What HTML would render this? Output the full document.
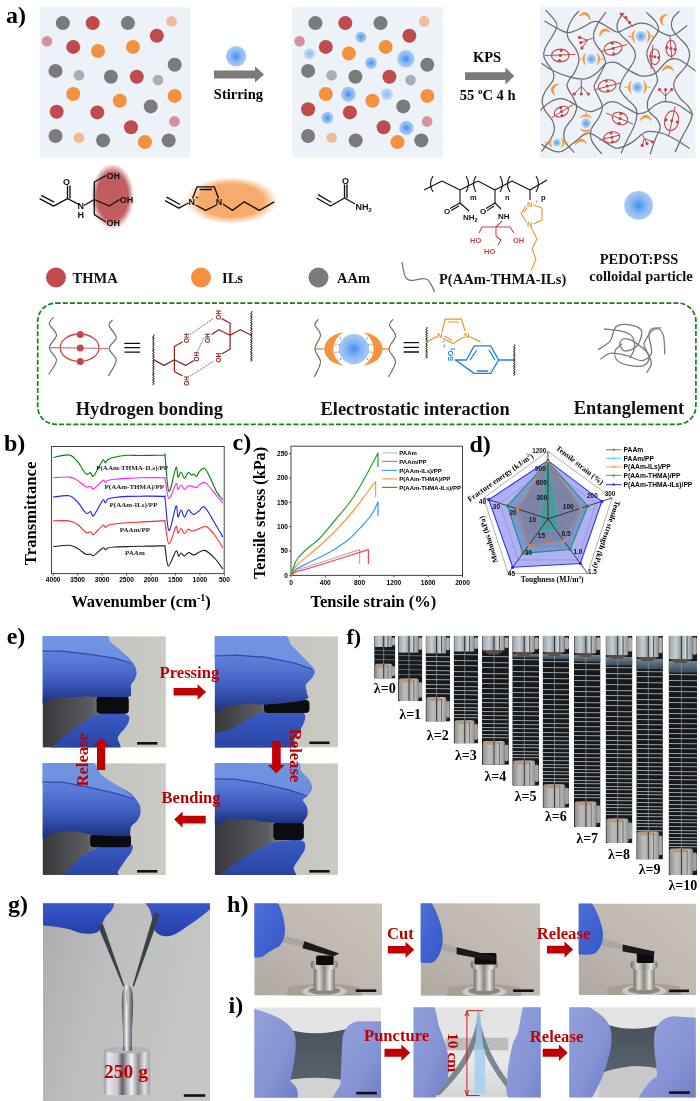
<!DOCTYPE html>
<html><head><meta charset="utf-8"><title>Figure</title>
<style>html,body{margin:0;padding:0;background:#fff;width:700px;height:1101px;overflow:hidden}svg{display:block}</style>
</head><body>
<svg width="700" height="1101" viewBox="0 0 700 1101">
<defs><radialGradient id="bg1"><stop offset="0" stop-color="#3d8ef7"/><stop offset="0.55" stop-color="#8ab9f2"/><stop offset="1" stop-color="#aacbf2"/></radialGradient><radialGradient id="bg2"><stop offset="0" stop-color="#8cbcf6"/><stop offset="1" stop-color="#c5dcf5"/></radialGradient><radialGradient id="redglow"><stop offset="0.72" stop-color="#c25c5e"/><stop offset="1" stop-color="#c25c5e" stop-opacity="0"/></radialGradient><radialGradient id="orgglow"><stop offset="0.7" stop-color="#f6aa6b"/><stop offset="1" stop-color="#f6aa6b" stop-opacity="0"/></radialGradient><radialGradient id="bgn"><stop offset="0" stop-color="#4d98f6"/><stop offset="0.5" stop-color="#8fbef4"/><stop offset="1" stop-color="#c4daf4"/></radialGradient></defs>
<text x="6" y="22.7" font-family="'Liberation Serif','Times New Roman',serif" font-weight="bold" font-size="24">a)</text>
<rect x="39.7" y="7.3" width="150.6" height="150.5" fill="#edf1f8"/>
<circle cx="62.8" cy="23.1" r="7" fill="#7b7b7b"/>
<circle cx="92.7" cy="23.1" r="7" fill="#c04b4d"/>
<circle cx="127.9" cy="23.1" r="7" fill="#7b7b7b"/>
<circle cx="171.6" cy="21.4" r="5.3" fill="#ecbd97"/>
<circle cx="47.0" cy="41.3" r="5.3" fill="#d39499"/>
<circle cx="156.8" cy="35.7" r="7" fill="#c04b4d"/>
<circle cx="73.2" cy="46.9" r="7" fill="#c04b4d"/>
<circle cx="98.0" cy="51" r="7" fill="#f4913e"/>
<circle cx="133.0" cy="46.9" r="7" fill="#f4913e"/>
<circle cx="55.5" cy="70.9" r="7" fill="#7b7b7b"/>
<circle cx="79.0" cy="75.3" r="5.3" fill="#a9adb4"/>
<circle cx="110.9" cy="76.7" r="7" fill="#7b7b7b"/>
<circle cx="136.8" cy="76.7" r="7" fill="#c04b4d"/>
<circle cx="158.0" cy="80.1" r="5.3" fill="#a9adb4"/>
<circle cx="174.7" cy="64.8" r="7" fill="#7b7b7b"/>
<circle cx="73.2" cy="94" r="7" fill="#f4913e"/>
<circle cx="119.8" cy="100.8" r="7" fill="#f4913e"/>
<circle cx="150.7" cy="106.4" r="7" fill="#7b7b7b"/>
<circle cx="174.7" cy="95.9" r="7" fill="#f4913e"/>
<circle cx="56.7" cy="111.7" r="7" fill="#c04b4d"/>
<circle cx="97.3" cy="112.4" r="7" fill="#c04b4d"/>
<circle cx="174.5" cy="121.4" r="5.3" fill="#d39499"/>
<circle cx="131.0" cy="127.2" r="7" fill="#c04b4d"/>
<circle cx="55.5" cy="136" r="7" fill="#7b7b7b"/>
<circle cx="79.0" cy="137.7" r="5.3" fill="#ecbd97"/>
<circle cx="103.1" cy="140.4" r="7" fill="#7b7b7b"/>
<circle cx="144.9" cy="142.1" r="7" fill="#f4913e"/>
<circle cx="168.7" cy="140.4" r="7" fill="#7b7b7b"/>
<rect x="292.3" y="7.3" width="150.6" height="150.5" fill="#edf1f8"/>
<circle cx="315.4" cy="23.1" r="7" fill="#7b7b7b"/>
<circle cx="345.3" cy="23.1" r="7" fill="#c04b4d"/>
<circle cx="380.5" cy="23.1" r="7" fill="#7b7b7b"/>
<circle cx="424.2" cy="21.4" r="5.3" fill="#ecbd97"/>
<circle cx="299.6" cy="41.3" r="5.3" fill="#d39499"/>
<circle cx="409.4" cy="35.7" r="7" fill="#c04b4d"/>
<circle cx="325.8" cy="46.9" r="7" fill="#c04b4d"/>
<circle cx="348.9" cy="53.4" r="7" fill="#f4913e"/>
<circle cx="385.6" cy="46.9" r="7" fill="#f4913e"/>
<circle cx="308.1" cy="70.9" r="7" fill="#7b7b7b"/>
<circle cx="331.6" cy="75.3" r="5.3" fill="#a9adb4"/>
<circle cx="355.4" cy="76.7" r="7" fill="#7b7b7b"/>
<circle cx="389.4" cy="76.7" r="7" fill="#c04b4d"/>
<circle cx="410.6" cy="80.1" r="5.3" fill="#a9adb4"/>
<circle cx="427.3" cy="64.8" r="7" fill="#7b7b7b"/>
<circle cx="325.8" cy="94" r="7" fill="#f4913e"/>
<circle cx="372.4" cy="100.8" r="7" fill="#f4913e"/>
<circle cx="403.3" cy="106.4" r="7" fill="#7b7b7b"/>
<circle cx="427.3" cy="95.9" r="7" fill="#f4913e"/>
<circle cx="308.1" cy="109.3" r="7" fill="#c04b4d"/>
<circle cx="349.9" cy="112.4" r="7" fill="#c04b4d"/>
<circle cx="427.1" cy="121.4" r="5.3" fill="#d39499"/>
<circle cx="383.6" cy="127.2" r="7" fill="#c04b4d"/>
<circle cx="308.1" cy="136" r="7" fill="#7b7b7b"/>
<circle cx="331.6" cy="137.7" r="5.3" fill="#ecbd97"/>
<circle cx="355.7" cy="140.4" r="7" fill="#7b7b7b"/>
<circle cx="397.5" cy="142.1" r="7" fill="#f4913e"/>
<circle cx="421.3" cy="140.4" r="7" fill="#7b7b7b"/>
<circle cx="361" cy="37.2" r="5.5" fill="url(#bg1)"/>
<circle cx="309.5" cy="53.9" r="5.5" fill="url(#bg2)"/>
<circle cx="371" cy="63.1" r="6" fill="url(#bg1)"/>
<circle cx="405.9" cy="58.8" r="8.7" fill="url(#bg1)"/>
<circle cx="348.4" cy="94.2" r="7.5" fill="url(#bg1)"/>
<circle cx="387" cy="94.2" r="6" fill="url(#bg2)"/>
<circle cx="327.3" cy="117.8" r="6" fill="url(#bg1)"/>
<circle cx="406.4" cy="128" r="7.2" fill="url(#bg1)"/>
<path d="M214 70.5 H255 V66.2 L264 74.4 L255 82.5 V78.5 H214 Z" fill="#7a7a7a"/>
<circle cx="236.1" cy="56.3" r="10.2" fill="url(#bg1)"/>
<text x="238.4" y="99.1" text-anchor="middle" font-family="'Liberation Serif','Times New Roman',serif" font-weight="bold" font-size="14.5">Stirring</text>
<path d="M465 72.3 H505.4 V67.4 L514.3 76 L505.4 84.6 V80 H465 Z" fill="#7a7a7a"/>
<text x="487" y="62.3" text-anchor="middle" font-family="'Liberation Serif','Times New Roman',serif" font-weight="bold" font-size="14.5">KPS</text>
<text x="487.7" y="99.5" text-anchor="middle" font-family="'Liberation Serif','Times New Roman',serif" font-weight="bold" font-size="14.5">55 <tspan font-size="9" dy="-6">o</tspan><tspan dy="6">C 4 h</tspan></text>
<rect x="540.2" y="6.8" width="155.3" height="151.3" fill="#edf1f8"/>
<clipPath id="netclip"><rect x="540.2" y="6.8" width="155.3" height="151.3"/></clipPath><g clip-path="url(#netclip)">
<path d="M545.6 9.9 C547.3 11.9 553.8 18.7 555.6 21.6 C557.5 24.5 557.3 24.9 556.7 27.4 C556.1 29.9 554.0 33.3 552.0 36.8 C550.0 40.3 546.4 45.2 545.0 48.5 C543.6 51.8 543.5 54.2 543.9 56.7 C544.3 59.2 545.8 61.2 547.4 63.7 C549.0 66.2 552.2 69.2 553.2 71.9 C554.2 74.6 554.6 76.7 553.2 80.0 C551.8 83.3 546.9 88.2 545.0 91.7 C543.1 95.2 542.1 98.0 542.1 101.1 C542.1 104.2 543.4 107.4 545.0 110.5 C546.6 113.6 550.4 116.7 552.0 119.8 C553.6 122.9 554.6 126.1 554.4 129.2 C554.2 132.3 553.0 134.9 550.9 138.6 C548.8 142.3 543.1 149.3 541.5 151.5" fill="none" stroke="#6e6e6e" stroke-width="1.25"/>
<path d="M579.0 11.0 C577.8 12.4 574.0 15.9 572.0 19.2 C570.0 22.5 567.9 27.6 567.3 30.9 C566.7 34.2 567.1 36.2 568.5 39.1 C569.9 42.0 573.8 45.2 575.5 48.5 C577.2 51.8 579.0 55.4 579.0 59.1 C579.0 62.8 577.2 67.1 575.5 70.8 C573.8 74.5 569.9 78.3 568.5 81.0 C567.1 83.7 566.5 84.2 567.3 87.0 C568.1 89.8 571.5 94.3 573.1 97.6 C574.7 100.9 576.7 103.6 576.7 106.9 C576.7 110.2 575.1 113.8 573.1 117.5 C571.1 121.2 566.3 125.3 564.9 129.2 C563.5 133.1 563.3 137.0 564.9 140.9 C566.5 144.8 572.7 150.7 574.3 152.6" fill="none" stroke="#6e6e6e" stroke-width="1.25"/>
<path d="M605.9 12.2 C604.5 14.1 599.8 20.2 597.7 23.9 C595.7 27.6 594.0 31.2 593.6 34.5 C593.2 37.8 593.9 40.7 595.4 43.8 C596.9 46.9 600.7 50.1 602.4 53.2 C604.1 56.3 605.6 59.5 605.4 62.6 C605.2 65.7 602.8 68.8 601.3 71.9 C599.8 75.0 597.8 78.5 596.6 81.0 C595.4 83.5 593.8 84.2 594.2 87.0 C594.6 89.8 597.5 94.3 598.9 97.6 C600.3 100.9 602.4 103.6 602.4 106.9 C602.4 110.2 600.8 113.8 598.9 117.5 C597.0 121.2 592.5 125.3 591.3 129.2 C590.1 133.1 590.1 136.8 591.9 140.9 C593.6 145.0 600.1 151.7 601.8 153.8" fill="none" stroke="#6e6e6e" stroke-width="1.25"/>
<path d="M624.2 13.0 C623.3 14.1 620.0 17.1 618.8 19.6 C617.6 22.1 616.6 25.4 617.0 28.0 C617.4 30.6 619.1 32.6 621.2 35.2 C623.3 37.8 627.3 40.8 629.6 43.6 C631.9 46.4 634.2 49.2 635.0 52.0 C635.8 54.8 635.5 57.4 634.4 60.4 C633.3 63.4 630.5 66.7 628.4 70.0 C626.3 73.3 623.4 77.2 622.0 80.5 C620.6 83.8 619.1 86.5 620.0 89.6 C620.9 92.7 624.6 96.2 627.2 99.2 C629.8 102.2 634.0 104.8 635.6 107.6 C637.2 110.4 637.0 113.0 636.8 116.0 C636.6 119.0 635.6 122.4 634.4 125.6 C633.2 128.8 631.2 132.0 629.6 135.2 C628.0 138.4 626.2 141.8 624.8 144.8 C623.4 147.8 621.8 151.8 621.2 153.2" fill="none" stroke="#6e6e6e" stroke-width="1.25"/>
<path d="M646.4 12.4 C648.0 14.0 654.0 19.0 656.0 22.0 C658.0 25.0 659.0 27.4 658.4 30.4 C657.8 33.4 654.3 36.4 652.4 40.0 C650.5 43.6 647.6 48.4 647.0 52.0 C646.4 55.6 647.5 58.4 648.8 61.6 C650.1 64.8 653.3 68.0 654.8 71.2 C656.2 74.4 657.9 77.7 657.5 81.0 C657.1 84.3 654.0 87.4 652.4 90.8 C650.8 94.2 648.2 98.2 647.6 101.6 C647.0 105.0 647.2 108.2 648.8 111.2 C650.4 114.2 655.3 116.8 657.2 119.6 C659.1 122.4 660.4 125.0 660.2 128.0 C660.0 131.0 657.7 133.2 656.0 137.6 C654.3 142.0 651.0 151.6 650.0 154.4" fill="none" stroke="#6e6e6e" stroke-width="1.25"/>
<path d="M679.4 11.2 C678.3 12.4 674.1 15.8 672.8 18.4 C671.5 21.0 671.0 24.0 671.6 26.8 C672.2 29.6 674.0 32.2 676.4 35.2 C678.8 38.2 683.8 41.6 686.0 44.8 C688.2 48.0 689.6 50.9 689.6 54.4 C689.6 57.9 688.3 62.1 686.0 66.0 C683.7 69.9 678.0 74.5 676.0 78.0 C674.0 81.5 673.3 83.9 674.0 87.2 C674.7 90.5 677.6 94.8 680.0 98.0 C682.4 101.2 686.4 103.6 688.4 106.4 C690.4 109.2 692.0 111.6 692.0 114.8 C692.0 118.0 690.0 122.0 688.4 125.6 C686.8 129.2 684.6 132.0 682.4 136.4 C680.2 140.8 676.4 149.4 675.2 152.0" fill="none" stroke="#6e6e6e" stroke-width="1.25"/>
<path d="M544.4 21.0 C546.6 22.3 553.9 26.7 557.9 28.6 C561.9 30.6 564.4 32.9 568.5 32.7 C572.6 32.5 578.8 29.1 582.5 27.4 C586.2 25.7 588.2 23.7 590.7 22.7 C593.2 21.7 594.8 20.8 597.7 21.6 C600.6 22.4 605.0 25.6 608.3 27.4 C611.6 29.1 614.2 32.2 617.7 32.1 C621.2 32.0 625.8 28.3 629.6 26.8 C633.4 25.3 637.0 23.5 640.4 23.2 C643.8 22.9 646.8 23.6 650.0 25.0 C653.2 26.4 656.2 29.8 659.6 31.6 C663.0 33.4 667.4 35.6 670.4 35.8 C673.4 36.0 674.8 34.5 677.6 32.8 C680.4 31.1 685.6 26.8 687.2 25.6" fill="none" stroke="#6e6e6e" stroke-width="1.25"/>
<path d="M541.5 63.2 C543.5 64.5 548.7 68.6 553.2 70.8 C557.7 73.0 563.2 75.2 568.5 76.6 C573.8 78.0 580.2 79.6 584.9 79.0 C589.6 78.4 593.1 75.6 596.6 73.1 C600.1 70.5 602.7 65.4 605.9 63.7 C609.1 62.0 612.2 61.7 616.0 62.7 C619.8 63.8 624.1 67.8 628.4 70.0 C632.7 72.2 637.2 75.4 641.6 76.0 C646.0 76.6 650.4 76.2 654.8 73.6 C659.2 71.0 664.2 62.8 668.0 60.4 C671.8 58.0 674.0 58.2 677.6 59.2 C681.2 60.2 686.4 64.3 689.6 66.4 C692.8 68.5 695.8 71.1 697.0 72.0" fill="none" stroke="#6e6e6e" stroke-width="1.25"/>
<path d="M540.3 110.5 C541.9 109.1 546.2 104.3 549.7 102.3 C553.2 100.3 557.5 98.5 561.4 98.7 C565.3 98.9 569.6 101.6 573.1 103.4 C576.6 105.2 579.6 107.9 582.5 109.3 C585.4 110.7 587.8 111.8 590.7 111.6 C593.6 111.4 597.2 109.6 600.1 108.1 C603.0 106.5 605.5 103.2 608.3 102.3 C611.1 101.4 614.0 101.6 617.0 102.5 C620.0 103.4 622.5 105.8 626.0 107.6 C629.5 109.4 634.4 113.0 638.0 113.6 C641.6 114.2 644.8 112.6 647.6 111.2 C650.4 109.8 652.0 106.8 654.8 105.2 C657.6 103.6 660.8 101.8 664.4 101.6 C668.0 101.4 672.8 102.6 676.4 104.0 C680.0 105.4 683.2 108.2 686.0 110.0 C688.8 111.8 692.0 114.0 693.2 114.8" fill="none" stroke="#6e6e6e" stroke-width="1.25"/>
<path d="M541.5 144.4 C543.2 145.4 548.7 149.1 552.0 150.3 C555.3 151.5 557.9 152.7 561.4 151.5 C564.9 150.3 569.2 146.2 573.1 143.3 C577.0 140.4 581.8 135.5 584.9 133.9 C588.0 132.3 589.2 132.9 591.9 133.9 C594.6 134.9 598.2 137.8 601.3 139.7 C604.4 141.6 607.8 144.2 610.6 145.6 C613.4 147.0 614.4 148.7 618.0 148.2 C621.6 147.7 627.7 145.0 632.0 142.4 C636.3 139.8 640.4 134.6 644.0 132.8 C647.6 131.0 650.2 131.4 653.6 131.6 C657.0 131.8 660.6 132.6 664.4 134.0 C668.2 135.4 672.2 137.6 676.4 140.0 C680.6 142.4 687.4 147.0 689.6 148.4" fill="none" stroke="#6e6e6e" stroke-width="1.25"/>
<ellipse cx="560.3" cy="55.5" rx="8.8" ry="6.4" transform="rotate(0 560.3 55.5)" fill="none" stroke="#c0474a" stroke-width="1.1"/>
<line x1="545" y1="55.5" x2="575.5" y2="54.4" stroke="#c0474a" stroke-width="1"/>
<circle cx="561.1" cy="50.4" r="1.5" fill="#c0474a"/>
<circle cx="560.3" cy="55.5" r="1.5" fill="#c0474a"/>
<circle cx="559.5" cy="60.6" r="1.5" fill="#c0474a"/>
<ellipse cx="613" cy="48.5" rx="9" ry="6.5" transform="rotate(-10 613 48.5)" fill="none" stroke="#c0474a" stroke-width="1.1"/>
<line x1="601" y1="51.5" x2="627" y2="44.5" stroke="#c0474a" stroke-width="1"/>
<circle cx="612.2" cy="43.3" r="1.5" fill="#c0474a"/>
<circle cx="613.0" cy="48.5" r="1.5" fill="#c0474a"/>
<circle cx="613.8" cy="53.7" r="1.5" fill="#c0474a"/>
<ellipse cx="654.8" cy="56.8" rx="4.8" ry="7.8" transform="rotate(0 654.8 56.8)" fill="none" stroke="#c0474a" stroke-width="1.1"/>
<line x1="653" y1="45" x2="651" y2="69" stroke="#c0474a" stroke-width="1"/>
<circle cx="651.0" cy="56.0" r="1.5" fill="#c0474a"/>
<circle cx="654.8" cy="56.8" r="1.5" fill="#c0474a"/>
<circle cx="658.6" cy="57.6" r="1.5" fill="#c0474a"/>
<ellipse cx="671" cy="48.4" rx="5" ry="8" transform="rotate(0 671 48.4)" fill="none" stroke="#c0474a" stroke-width="1.1"/>
<line x1="670" y1="37" x2="672" y2="60" stroke="#c0474a" stroke-width="1"/>
<circle cx="667.0" cy="47.6" r="1.5" fill="#c0474a"/>
<circle cx="671.0" cy="48.4" r="1.5" fill="#c0474a"/>
<circle cx="675.0" cy="49.2" r="1.5" fill="#c0474a"/>
<ellipse cx="561.4" cy="111.6" rx="7.5" ry="4.8" transform="rotate(-25 561.4 111.6)" fill="none" stroke="#c0474a" stroke-width="1.1"/>
<line x1="552" y1="117.5" x2="573.1" y2="104.6" stroke="#c0474a" stroke-width="1"/>
<circle cx="560.8" cy="107.8" r="1.5" fill="#c0474a"/>
<circle cx="561.4" cy="111.6" r="1.5" fill="#c0474a"/>
<circle cx="562.0" cy="115.4" r="1.5" fill="#c0474a"/>
<ellipse cx="607.1" cy="85.9" rx="9" ry="6" transform="rotate(-10 607.1 85.9)" fill="none" stroke="#c0474a" stroke-width="1.1"/>
<line x1="594" y1="90" x2="620" y2="83" stroke="#c0474a" stroke-width="1"/>
<circle cx="606.3" cy="81.1" r="1.5" fill="#c0474a"/>
<circle cx="607.1" cy="85.9" r="1.5" fill="#c0474a"/>
<circle cx="607.9" cy="90.7" r="1.5" fill="#c0474a"/>
<ellipse cx="620" cy="118.5" rx="8" ry="6" transform="rotate(20 620 118.5)" fill="none" stroke="#c0474a" stroke-width="1.1"/>
<line x1="606" y1="113" x2="633" y2="124" stroke="#c0474a" stroke-width="1"/>
<circle cx="620.8" cy="113.7" r="1.5" fill="#c0474a"/>
<circle cx="620.0" cy="118.5" r="1.5" fill="#c0474a"/>
<circle cx="619.2" cy="123.3" r="1.5" fill="#c0474a"/>
<ellipse cx="611.8" cy="137.4" rx="8" ry="5.5" transform="rotate(-10 611.8 137.4)" fill="none" stroke="#c0474a" stroke-width="1.1"/>
<line x1="599.5" y1="140" x2="620" y2="135" stroke="#c0474a" stroke-width="1"/>
<circle cx="611.1" cy="133.0" r="1.5" fill="#c0474a"/>
<circle cx="611.8" cy="137.4" r="1.5" fill="#c0474a"/>
<circle cx="612.5" cy="141.8" r="1.5" fill="#c0474a"/>
<ellipse cx="671.6" cy="120.8" rx="7" ry="10" transform="rotate(12 671.6 120.8)" fill="none" stroke="#c0474a" stroke-width="1.1"/>
<line x1="675.2" y1="106.4" x2="668.6" y2="136.4" stroke="#c0474a" stroke-width="1"/>
<circle cx="666.0" cy="119.7" r="1.5" fill="#c0474a"/>
<circle cx="671.6" cy="120.8" r="1.5" fill="#c0474a"/>
<circle cx="677.2" cy="121.9" r="1.5" fill="#c0474a"/>
<path d="M593 38 L587.5 40.1 M587.5 40.1 Q583.5 38.8 579.6 37.4 M587.5 40.1 Q584.1 41.4 580.8 42.7 M587.5 40.1 Q584.7 44.0 581.9 47.9" fill="none" stroke="#c0474a" stroke-width="1"/>
<circle cx="579.6" cy="37.4" r="1.6" fill="#c0474a"/>
<circle cx="580.8" cy="42.7" r="1.6" fill="#c0474a"/>
<circle cx="581.9" cy="47.9" r="1.6" fill="#c0474a"/>
<path d="M633 27 L629.6 22.9 M629.6 22.9 Q625.4 18.5 621.2 14 M629.6 22.9 Q627.7 20.2 625.8 17.4 M629.6 22.9 Q629.6 22.7 629.6 22.5" fill="none" stroke="#c0474a" stroke-width="1"/>
<circle cx="621.2" cy="14" r="1.6" fill="#c0474a"/>
<circle cx="625.8" cy="17.4" r="1.6" fill="#c0474a"/>
<circle cx="629.6" cy="22.5" r="1.6" fill="#c0474a"/>
<path d="M581.3 80 L581.3 86.3 M581.3 86.3 Q577.8 90.2 574.3 94 M581.3 86.3 Q581.3 90.2 581.3 94 M581.3 86.3 Q584.9 90.2 588.4 94" fill="none" stroke="#c0474a" stroke-width="1"/>
<circle cx="574.3" cy="94" r="1.6" fill="#c0474a"/>
<circle cx="581.3" cy="94" r="1.6" fill="#c0474a"/>
<circle cx="588.4" cy="94" r="1.6" fill="#c0474a"/>
<path d="M665.6 101.6 L665.6 96.2 M665.6 96.2 Q662.6 92.9 659.6 89.6 M665.6 96.2 Q665.6 92.9 665.6 89.6 M665.6 96.2 Q668.6 92.9 671.6 89.6" fill="none" stroke="#c0474a" stroke-width="1"/>
<circle cx="659.6" cy="89.6" r="1.6" fill="#c0474a"/>
<circle cx="665.6" cy="89.6" r="1.6" fill="#c0474a"/>
<circle cx="671.6" cy="89.6" r="1.6" fill="#c0474a"/>
<path d="M642 134 L644.3 138.3 M644.3 138.3 Q643.3 141.9 642.2 145.4 M644.3 138.3 Q645.7 141.0 647 143.6 M644.3 138.3 Q648.4 140.1 652.4 141.8" fill="none" stroke="#c0474a" stroke-width="1"/>
<circle cx="642.2" cy="145.4" r="1.6" fill="#c0474a"/>
<circle cx="647" cy="143.6" r="1.6" fill="#c0474a"/>
<circle cx="652.4" cy="141.8" r="1.6" fill="#c0474a"/>
<path d="M579.4 15.9 C580.9 22.9 588.9 22.9 590.4 15.9 C587.9 19.9 581.9 19.9 579.4 15.9 Z" fill="#f39a3a" stroke="#f39a3a" stroke-width="0.8" transform="rotate(200 584.9 16.9)"/>
<path d="M599.3 32.3 C600.8 39.3 608.8 39.3 610.3 32.3 C607.8 36.3 601.8 36.3 599.3 32.3 Z" fill="#f39a3a" stroke="#f39a3a" stroke-width="0.8" transform="rotate(160 604.8 33.3)"/>
<path d="M658.9 18.6 C660.4 25.6 668.4 25.6 669.9 18.6 C667.4 22.6 661.4 22.6 658.9 18.6 Z" fill="#f39a3a" stroke="#f39a3a" stroke-width="0.8" transform="rotate(110 664.4 19.6)"/>
<path d="M662.5 69.0 C664.0 76.0 672.0 76.0 673.5 69.0 C671.0 73.0 665.0 73.0 662.5 69.0 Z" fill="#f39a3a" stroke="#f39a3a" stroke-width="0.8" transform="rotate(180 668.0 70.0)"/>
<path d="M550.1 88.4 C551.6 95.4 559.6 95.4 561.1 88.4 C558.6 92.4 552.6 92.4 550.1 88.4 Z" fill="#f39a3a" stroke="#f39a3a" stroke-width="0.8" transform="rotate(110 555.6 89.4)"/>
<path d="M575.3 142.3 C576.8 149.3 584.8 149.3 586.3 142.3 C583.8 146.3 577.8 146.3 575.3 142.3 Z" fill="#f39a3a" stroke="#f39a3a" stroke-width="0.8" transform="rotate(170 580.8 143.3)"/>
<path d="M640.3 118.6 C641.8 125.6 649.8 125.6 651.3 118.6 C648.8 122.6 642.8 122.6 640.3 118.6 Z" fill="#f39a3a" stroke="#f39a3a" stroke-width="0.8" transform="rotate(180 645.8 119.6)"/>
<circle cx="591.3" cy="59.1" r="5" fill="url(#bgn)"/>
<path d="M585.5 53.3 Q579.5 59.1 585.5 64.9 Q583.0 59.1 585.5 53.3 Z M597.1 53.3 Q603.1 59.1 597.1 64.9 Q599.6 59.1 597.1 53.3 Z" fill="#f39a3a" stroke="#f39a3a" stroke-width="0.6"/>
<path d="M582.0 59.1 H578.5 M600.6 59.1 H604.1" stroke="#f39a3a" stroke-width="1"/>
<circle cx="641" cy="36.4" r="5.5" fill="url(#bgn)"/>
<path d="M634.7 30.1 Q628.7 36.4 634.7 42.7 Q632.2 36.4 634.7 30.1 Z M647.3 30.1 Q653.3 36.4 647.3 42.7 Q649.8 36.4 647.3 30.1 Z" fill="#f39a3a" stroke="#f39a3a" stroke-width="0.6"/>
<path d="M631.2 36.4 H627.7 M650.8 36.4 H654.3" stroke="#f39a3a" stroke-width="1"/>
<circle cx="586" cy="123.3" r="5" fill="url(#bgn)"/>
<path d="M580.2 117.5 Q574.2 123.3 580.2 129.1 Q577.7 123.3 580.2 117.5 Z M591.8 117.5 Q597.8 123.3 591.8 129.1 Q594.3 123.3 591.8 117.5 Z" fill="#f39a3a" stroke="#f39a3a" stroke-width="0.6" transform="rotate(90 586 123.3)"/>
<path d="M576.7 123.3 H573.2 M595.3 123.3 H598.8" stroke="#f39a3a" stroke-width="1" transform="rotate(90 586 123.3)"/>
<circle cx="556.7" cy="142.7" r="4" fill="url(#bgn)"/>
<path d="M551.9 137.9 Q545.9 142.7 551.9 147.5 Q549.4 142.7 551.9 137.9 Z M561.5 137.9 Q567.5 142.7 561.5 147.5 Q564.0 142.7 561.5 137.9 Z" fill="#f39a3a" stroke="#f39a3a" stroke-width="0.6"/>
<path d="M548.4 142.7 H544.9 M565.0 142.7 H568.5" stroke="#f39a3a" stroke-width="1"/>
<circle cx="637.4" cy="87.2" r="5.5" fill="url(#bgn)"/>
<path d="M631.1 80.9 Q625.1 87.2 631.1 93.5 Q628.6 87.2 631.1 80.9 Z M643.7 80.9 Q649.7 87.2 643.7 93.5 Q646.2 87.2 643.7 80.9 Z" fill="#f39a3a" stroke="#f39a3a" stroke-width="0.6"/>
<path d="M627.6 87.2 H624.1 M647.2 87.2 H650.7" stroke="#f39a3a" stroke-width="1"/>
</g>
<ellipse cx="112.5" cy="196.5" rx="21.5" ry="33" fill="url(#redglow)"/>
<path d="M39.6 198.6 L53.6 206.1 L67.5 198.6 L80 205 M84 205.5 L94.3 199.5 M67.5 198.6 L67.5 185.5 M94.3 199.5 L94.3 182 L106 175.5 M94.3 199.5 L109.3 206 L119.5 199.5 M94.3 199.5 L94.3 214.6 L106 222" fill="none" stroke="#111" stroke-width="1.35" stroke-linejoin="round"/>
<path d="M41.2 195.3 L54.2 202.2 M70 198.6 L70 185.5" fill="none" stroke="#111" stroke-width="1.35" stroke-linejoin="round"/>
<text x="66.6" y="185" text-anchor="middle" font-family="'Liberation Sans',Arial,sans-serif" font-weight="bold" font-size="9" fill="#111">O</text>
<text x="80.8" y="209" text-anchor="middle" font-family="'Liberation Sans',Arial,sans-serif" font-weight="bold" font-size="9" fill="#111">N</text>
<text x="80.8" y="217.5" text-anchor="middle" font-family="'Liberation Sans',Arial,sans-serif" font-weight="bold" font-size="9" fill="#111">H</text>
<text x="106.5" y="178.5" font-family="'Liberation Sans',Arial,sans-serif" font-weight="bold" font-size="9" fill="#111">OH</text>
<text x="119.8" y="202.5" font-family="'Liberation Sans',Arial,sans-serif" font-weight="bold" font-size="9" fill="#111">OH</text>
<text x="106.5" y="226" font-family="'Liberation Sans',Arial,sans-serif" font-weight="bold" font-size="9" fill="#111">OH</text>
<ellipse cx="231.4" cy="200.5" rx="46" ry="23.5" fill="url(#orgglow)"/>
<path d="M165 200.7 L178.8 208.2 L188.5 203 M192.5 198.5 L197.1 186.8 L214.3 186.8 L218.6 198.5 M216.5 205 L205.7 210.4 L195.5 205 M222.9 204 L232.5 210.4 L244.3 201.8 L259.3 210.4 L274.3 201.8" fill="none" stroke="#111" stroke-width="1.35" stroke-linejoin="round"/>
<path d="M166.5 197.2 L180 204.5 M199.5 189.5 L212 189.5" fill="none" stroke="#111" stroke-width="1.35" stroke-linejoin="round"/>
<text x="191.8" y="205" text-anchor="middle" font-family="'Liberation Sans',Arial,sans-serif" font-weight="bold" font-size="9" fill="#111">N</text>
<text x="197" y="198.5" text-anchor="middle" font-family="'Liberation Sans',Arial,sans-serif" font-size="6">+</text>
<text x="219" y="205" text-anchor="middle" font-family="'Liberation Sans',Arial,sans-serif" font-weight="bold" font-size="9" fill="#111">N</text>
<path d="M316.5 198 L330.5 206 L344.5 198 L355 204 M344.5 198 L344.5 184.5" fill="none" stroke="#111" stroke-width="1.35" stroke-linejoin="round"/>
<path d="M318 194.7 L331.5 202.5 M347 198 L347 184.5" fill="none" stroke="#111" stroke-width="1.35" stroke-linejoin="round"/>
<text x="345.5" y="184" text-anchor="middle" font-family="'Liberation Sans',Arial,sans-serif" font-weight="bold" font-size="9" fill="#111">O</text>
<text x="355.5" y="210" font-family="'Liberation Sans',Arial,sans-serif" font-weight="bold" font-size="9" fill="#111">NH<tspan font-size="6" dy="2">2</tspan></text>
<path d="M424 190 L442 181 L460 190 L478 181 L495 190 L512 181 L530 190 L547 180 M460 190 V203 M495 190 V203 M530 190 V200" fill="none" stroke="#111" stroke-width="1.1" stroke-linejoin="round"/>
<path d="M433 176 Q428 184 433 192" fill="none" stroke="#111" stroke-width="1.1" stroke-linejoin="round"/>
<path d="M466 176 Q471 184 466 192" fill="none" stroke="#111" stroke-width="1.1" stroke-linejoin="round"/>
<path d="M476 176 Q471 184 476 192" fill="none" stroke="#111" stroke-width="1.1" stroke-linejoin="round"/>
<path d="M500 176 Q505 184 500 192" fill="none" stroke="#111" stroke-width="1.1" stroke-linejoin="round"/>
<path d="M510 176 Q505 184 510 192" fill="none" stroke="#111" stroke-width="1.1" stroke-linejoin="round"/>
<path d="M536 176 Q541 184 536 192" fill="none" stroke="#111" stroke-width="1.1" stroke-linejoin="round"/>
<text x="470" y="200" font-family="'Liberation Sans',Arial,sans-serif" font-weight="bold" font-size="7.5" fill="#111">m</text>
<text x="505" y="200" font-family="'Liberation Sans',Arial,sans-serif" font-weight="bold" font-size="7.5" fill="#111">n</text>
<text x="541" y="200" font-family="'Liberation Sans',Arial,sans-serif" font-weight="bold" font-size="7.5" fill="#111">p</text>
<path d="M460 203 L450 208.5 M459 206 L451 210.6 M460 203 L469 211 M495 203 L486 208.5 M494 206 L487 210.6 M495 203 L501 209" fill="none" stroke="#111" stroke-width="1.1" stroke-linejoin="round"/>
<text x="447" y="214" text-anchor="middle" font-family="'Liberation Sans',Arial,sans-serif" font-weight="bold" font-size="8" fill="#111">O</text>
<text x="463" y="220" font-family="'Liberation Sans',Arial,sans-serif" font-weight="bold" font-size="8" fill="#111">NH<tspan font-size="5.5" dy="2">2</tspan></text>
<text x="483" y="214" text-anchor="middle" font-family="'Liberation Sans',Arial,sans-serif" font-weight="bold" font-size="8" fill="#111">O</text>
<text x="498" y="219" font-family="'Liberation Sans',Arial,sans-serif" font-weight="bold" font-size="8" fill="#111">NH</text>
<path d="M502 221 L496 227 M496 227 H482 L479 233 M496 227 H510 L514 233 M496 227 V236 L501 240 L498 245" fill="none" stroke="#c04b4d" stroke-width="1.1" stroke-linejoin="round"/>
<text x="470" y="243" font-family="'Liberation Sans',Arial,sans-serif" font-weight="bold" font-size="7.5" fill="#c04b4d">HO</text>
<text x="513" y="243" font-family="'Liberation Sans',Arial,sans-serif" font-weight="bold" font-size="7.5" fill="#c04b4d">OH</text>
<text x="484" y="254" font-family="'Liberation Sans',Arial,sans-serif" font-weight="bold" font-size="7.5" fill="#c04b4d">HO</text>
<path d="M533.5 205 L542 208 L542 220 L533.5 224 M526.5 222 L521 213.5 L526 206 M523.5 213 L527 208 M531 227 L537 239 L532 249 L536 259 L531 271" fill="none" stroke="#f0902e" stroke-width="1.1" stroke-linejoin="round"/>
<text x="529.6" y="207" text-anchor="middle" font-family="'Liberation Sans',Arial,sans-serif" font-weight="bold" font-size="7.5" fill="#f0902e">N</text>
<text x="535" y="202.5" font-family="'Liberation Sans',Arial,sans-serif" font-size="6" font-weight="bold" fill="#f0902e">+</text>
<text x="529.6" y="226.5" text-anchor="middle" font-family="'Liberation Sans',Arial,sans-serif" font-weight="bold" font-size="7.5" fill="#f0902e">N</text>
<circle cx="638.6" cy="205.4" r="14.4" fill="url(#bg1)"/>
<circle cx="56" cy="277.5" r="10" fill="#c04b4d"/>
<text x="72.5" y="282.5" font-family="'Liberation Serif','Times New Roman',serif" font-weight="bold" font-size="14.5" fill="#111">THMA</text>
<circle cx="201" cy="277.5" r="10" fill="#f4913e"/>
<text x="222" y="282.5" font-family="'Liberation Serif','Times New Roman',serif" font-weight="bold" font-size="14.5" fill="#111">ILs</text>
<circle cx="318.5" cy="277.5" r="10" fill="#7b7b7b"/>
<text x="337" y="282.5" font-family="'Liberation Serif','Times New Roman',serif" font-weight="bold" font-size="14.5" fill="#111">AAm</text>
<path d="M402 262 C404 275 405 281 412 280.5 C419 280 424 276.5 428 280 C431 283 433 288 434.6 292" fill="none" stroke="#777" stroke-width="1.3"/>
<text x="439" y="283.7" font-family="'Liberation Serif','Times New Roman',serif" font-weight="bold" font-size="14.5" fill="#111">P(AAm-THMA-ILs)</text>
<text x="639" y="263.6" text-anchor="middle" font-family="'Liberation Serif','Times New Roman',serif" font-weight="bold" font-size="14.5" fill="#111">PEDOT:PSS</text>
<text x="641" y="281" text-anchor="middle" font-family="'Liberation Serif','Times New Roman',serif" font-weight="bold" font-size="14.5" fill="#111">colloidal particle</text>
<rect x="37.7" y="303.1" width="658.2" height="121.2" rx="18" ry="18" fill="none" stroke="#108510" stroke-width="1.7" stroke-dasharray="5 2.1"/>
<path d="M53.4 317.5 C52.7 318.6 48.9 321.2 49.4 324.1 C49.9 327.0 56.5 331.2 56.5 335.1 C56.5 339.0 49.4 343.5 49.4 347.7 C49.4 351.9 56.6 355.9 56.5 360.3 C56.4 364.8 49.9 372.0 48.6 374.4" fill="none" stroke="#6f6f6f" stroke-width="1.2"/>
<path d="M112.6 319.7 C112.0 320.7 108.5 322.7 109.1 325.7 C109.7 328.7 116.2 333.7 116.2 337.5 C116.2 341.3 109.1 344.7 109.1 348.5 C109.1 352.3 116.3 355.7 116.2 360.3 C116.1 364.9 109.7 373.4 108.4 376.0" fill="none" stroke="#6f6f6f" stroke-width="1.2"/>
<ellipse cx="79.6" cy="347.7" rx="19.4" ry="13.7" fill="none" stroke="#c8474c" stroke-width="1.3"/>
<line x1="50.2" y1="347.7" x2="108.4" y2="348.5" stroke="#d06a6e" stroke-width="1.2"/>
<circle cx="80.3" cy="334.4" r="3.5" fill="#c8474c"/>
<circle cx="80.3" cy="348" r="3.5" fill="#c8474c"/>
<circle cx="80.3" cy="361.5" r="3.5" fill="#c8474c"/>
<path d="M124.4 343.3 H140.1 M124.4 347.7 H140.1 M124.4 352.1 H140.1" stroke="#111" stroke-width="1.3"/>
<path d="M153.4 359.5 L164.1 365.4 L174.4 359.8 M174.4 359.8 V346.4 L182.7 341.8 M174.4 359.8 L185.5 365.4 L193.9 360.4 M174.4 359.8 V371.5 L182.7 376.1" fill="none" stroke="#8e1f1f" stroke-width="1.2" stroke-linejoin="round"/>
<path d="M251.4 335.3 L240.3 329.7 L230.1 335.3 M230.1 335.3 V323.2 L221.7 318.6 M230.1 335.3 L218.9 329.7 L211.5 334.4 M230.1 335.3 V349.2 L221.7 353.9" fill="none" stroke="#8e1f1f" stroke-width="1.2" stroke-linejoin="round"/>
<path d="M153.4 334.4 L154.3 335.6 L152.5 336.8 L154.3 338.0 L152.5 339.2 L154.3 340.4 L152.5 341.6 L154.3 342.8 L152.5 344.0 L154.3 345.2 L152.5 346.4 L154.3 347.6 L152.5 348.8 L154.3 350.0 L152.5 351.2 L154.3 352.4 L152.5 353.6 L154.3 354.8 L152.5 356.0 L154.3 357.2 L152.5 358.4 L154.3 359.6 L152.5 360.8 L154.3 362.0 L152.5 363.2 L154.3 364.4 L152.5 365.6 L154.3 366.8 L152.5 368.0 L154.3 369.2 L152.5 370.4 L154.3 371.6 L152.5 372.8 L154.3 374.0 L152.5 375.2 L154.3 376.4 L152.5 377.6 L154.3 378.8 L152.5 380.0 L154.3 381.2 L152.5 382.4 L154.3 383.6 L152.5 384.8" fill="none" stroke="#111" stroke-width="0.9"/>
<path d="M251.4 311 L252.3 312.2 L250.5 313.4 L252.3 314.6 L250.5 315.8 L252.3 317.0 L250.5 318.2 L252.3 319.4 L250.5 320.6 L252.3 321.8 L250.5 323.0 L252.3 324.2 L250.5 325.4 L252.3 326.6 L250.5 327.8 L252.3 329.0 L250.5 330.2 L252.3 331.4 L250.5 332.6 L252.3 333.8 L250.5 335.0 L252.3 336.2 L250.5 337.4 L252.3 338.6 L250.5 339.8 L252.3 341.0 L250.5 342.2 L252.3 343.4 L250.5 344.6 L252.3 345.8 L250.5 347.0 L252.3 348.2 L250.5 349.4 L252.3 350.6 L250.5 351.8 L252.3 353.0 L250.5 354.2 L252.3 355.4 L250.5 356.6 L252.3 357.8 L250.5 359.0 L252.3 360.2 L250.5 361.4" fill="none" stroke="#111" stroke-width="0.9"/>
<text x="186.4" y="338.1" text-anchor="middle" dominant-baseline="central" transform="rotate(-90 186.4 338.1)" font-family="'Liberation Sans',Arial,sans-serif" font-weight="bold" font-size="6.5" fill="#8e1f1f">OH</text>
<text x="196.6" y="356.6" text-anchor="middle" dominant-baseline="central" transform="rotate(-90 196.6 356.6)" font-family="'Liberation Sans',Arial,sans-serif" font-weight="bold" font-size="6.5" fill="#8e1f1f">OH</text>
<text x="186.4" y="380.8" text-anchor="middle" dominant-baseline="central" transform="rotate(-90 186.4 380.8)" font-family="'Liberation Sans',Arial,sans-serif" font-weight="bold" font-size="6.5" fill="#8e1f1f">OH</text>
<text x="218" y="314.9" text-anchor="middle" dominant-baseline="central" transform="rotate(90 218 314.9)" font-family="'Liberation Sans',Arial,sans-serif" font-weight="bold" font-size="6.5" fill="#8e1f1f">HO</text>
<text x="207.8" y="338.1" text-anchor="middle" dominant-baseline="central" transform="rotate(90 207.8 338.1)" font-family="'Liberation Sans',Arial,sans-serif" font-weight="bold" font-size="6.5" fill="#8e1f1f">HO</text>
<text x="218" y="357.6" text-anchor="middle" dominant-baseline="central" transform="rotate(90 218 357.6)" font-family="'Liberation Sans',Arial,sans-serif" font-weight="bold" font-size="6.5" fill="#8e1f1f">HO</text>
<path d="M190.1 334.4 L213.4 318.6 M197.6 351.1 L204.1 337.1 M190.1 376.1 L213.4 361.3" fill="none" stroke="#222" stroke-width="0.8" stroke-dasharray="1 0.9"/>
<path d="M318.4 319.4 C317.8 320.3 314.4 322.4 314.8 325.0 C315.2 327.6 320.5 331.0 320.5 335.0 C320.5 339.0 315.0 344.5 315.0 349.0 C315.0 353.5 320.6 357.4 320.5 362.0 C320.4 366.6 315.4 374.4 314.4 376.9" fill="none" stroke="#6f6f6f" stroke-width="1.2"/>
<path d="M393.0 319.4 C392.4 320.3 389.1 322.2 389.5 325.0 C389.9 327.8 395.6 332.0 395.5 336.0 C395.4 340.0 389.0 344.7 389.0 349.0 C389.0 353.3 395.6 357.4 395.5 362.0 C395.4 366.6 389.7 374.4 388.5 376.9" fill="none" stroke="#6f6f6f" stroke-width="1.2"/>
<path d="M316 349 H327 M381 349 H389" stroke="#f29440" stroke-width="1.3"/>
<circle cx="353.9" cy="349.1" r="15.1" fill="url(#bg1)"/>
<path d="M343.6 332.3 C 318 336, 318 362, 343.6 365.7 C 330 358, 330 340, 343.6 332.3 Z" fill="#f29440"/>
<path d="M363.3 332.3 C 389 336, 389 362, 363.3 365.7 C 377 358, 377 340, 363.3 332.3 Z" fill="#f29440"/>
<text x="337.5" y="339" text-anchor="middle" font-family="'Liberation Sans',Arial,sans-serif" font-size="6.5" fill="#f29440">+</text>
<text x="335.8" y="347" text-anchor="middle" font-family="'Liberation Sans',Arial,sans-serif" font-size="6.5" fill="#f29440">+</text>
<text x="336" y="355" text-anchor="middle" font-family="'Liberation Sans',Arial,sans-serif" font-size="6.5" fill="#f29440">+</text>
<text x="338" y="362.5" text-anchor="middle" font-family="'Liberation Sans',Arial,sans-serif" font-size="6.5" fill="#f29440">+</text>
<text x="370.3" y="339" text-anchor="middle" font-family="'Liberation Sans',Arial,sans-serif" font-size="6.5" fill="#f29440">+</text>
<text x="372" y="347" text-anchor="middle" font-family="'Liberation Sans',Arial,sans-serif" font-size="6.5" fill="#f29440">+</text>
<text x="371.8" y="355" text-anchor="middle" font-family="'Liberation Sans',Arial,sans-serif" font-size="6.5" fill="#f29440">+</text>
<text x="369.8" y="362.5" text-anchor="middle" font-family="'Liberation Sans',Arial,sans-serif" font-size="6.5" fill="#f29440">+</text>
<line x1="340.5" y1="337.5" x2="340.5" y2="339.5" stroke="#4a90e8" stroke-width="0.9"/>
<line x1="339" y1="344" x2="339" y2="346" stroke="#4a90e8" stroke-width="0.9"/>
<line x1="339" y1="351" x2="339" y2="353" stroke="#4a90e8" stroke-width="0.9"/>
<line x1="340.5" y1="358" x2="340.5" y2="360" stroke="#4a90e8" stroke-width="0.9"/>
<line x1="367.3" y1="337.5" x2="367.3" y2="339.5" stroke="#4a90e8" stroke-width="0.9"/>
<line x1="368.8" y1="344" x2="368.8" y2="346" stroke="#4a90e8" stroke-width="0.9"/>
<line x1="368.8" y1="351" x2="368.8" y2="353" stroke="#4a90e8" stroke-width="0.9"/>
<line x1="367.3" y1="358" x2="367.3" y2="360" stroke="#4a90e8" stroke-width="0.9"/>
<path d="M403.6 342.6 H419 M403.6 347.3 H419 M403.6 352 H419" stroke="#111" stroke-width="1.3"/>
<path d="M426.6 327 L427.5 328.2 L425.7 329.4 L427.5 330.6 L425.7 331.8 L427.5 333.0 L425.7 334.2 L427.5 335.4 L425.7 336.6 L427.5 337.8 L425.7 339.0 L427.5 340.2 L425.7 341.4 L427.5 342.6 L425.7 343.8 L427.5 345.0 L425.7 346.2 L427.5 347.4 L425.7 348.6 L427.5 349.8 L425.7 351.0 L427.5 352.2 L425.7 353.4 L427.5 354.6 L425.7 355.8 L427.5 357.0 L425.7 358.2" fill="none" stroke="#111" stroke-width="0.9"/>
<path d="M514.3 344.3 L515.2 345.5 L513.4 346.7 L515.2 347.9 L513.4 349.1 L515.2 350.3 L513.4 351.5 L515.2 352.7 L513.4 353.9 L515.2 355.1 L513.4 356.3 L515.2 357.5 L513.4 358.7 L515.2 359.9 L513.4 361.1 L515.2 362.3 L513.4 363.5 L515.2 364.7 L513.4 365.9 L515.2 367.1 L513.4 368.3 L515.2 369.5 L513.4 370.7 L515.2 371.9 L513.4 373.1 L515.2 374.3 L513.4 375.5" fill="none" stroke="#111" stroke-width="0.9"/>
<path d="M426.6 341.9 L437 336.5 M442 332 L445.1 319.1 L461.6 319.1 L465 331 M463.5 337 L453 343.5 L443 338.5 M447.5 322 L459 322 M452 340.5 L444.5 336 M469.5 336.5 L480.5 341.9" fill="none" stroke="#f0902e" stroke-width="1.2" stroke-linejoin="round"/>
<text x="439.6" y="337.8" text-anchor="middle" font-family="'Liberation Sans',Arial,sans-serif" font-weight="bold" font-size="7.5" fill="#f0902e">N</text>
<text x="443.8" y="342.8" text-anchor="middle" font-family="'Liberation Sans',Arial,sans-serif" font-weight="bold" font-size="6" fill="#f0902e">+</text>
<text x="466.6" y="337.8" text-anchor="middle" font-family="'Liberation Sans',Arial,sans-serif" font-weight="bold" font-size="7.5" fill="#f0902e">N</text>
<path d="M455.4 360 H466.4 L474.2 345.9 H490.7 L498.6 360 L490.7 373.4 H474.2 Z M498.6 360 H514.3 M476.5 350.5 L470 360 M477 371 H488 M489 350 L495 360" fill="none" stroke="#1a7ee6" stroke-width="1.3" stroke-linejoin="round"/>
<text x="450.6" y="354.5" text-anchor="middle" dominant-baseline="central" transform="rotate(-90 450.6 354.5)" font-family="'Liberation Sans',Arial,sans-serif" font-weight="bold" font-size="7.5" fill="#1a7ee6">SO<tspan font-size="5" dy="2">3</tspan></text>
<line x1="444.2" y1="344.5" x2="444.2" y2="347.5" stroke="#1a7ee6" stroke-width="1"/>
<path d="M598.0 349.6 C600.0 348.2 607.1 345.0 610.1 341.1 C613.2 337.3 612.6 329.2 616.2 326.6 C619.8 323.9 627.7 324.5 632.0 325.4 C636.2 326.2 640.9 328.0 641.7 331.4 C642.5 334.9 639.7 342.8 636.8 346.0 C634.0 349.2 627.5 351.3 624.7 350.9 C621.9 350.4 619.8 345.6 619.8 343.6 C619.8 341.5 621.9 338.7 624.7 338.7 C627.5 338.7 632.8 340.7 636.8 343.6 C640.9 346.4 647.8 352.1 649.0 355.7 C650.2 359.4 647.4 363.8 644.1 365.4 C640.9 367.0 634.0 366.2 629.6 365.4 C625.1 364.6 619.8 363.0 617.4 360.6 C615.0 358.1 614.2 353.7 615.0 350.9 C615.8 348.0 621.1 344.8 622.3 343.6" fill="none" stroke="#7b7b7b" stroke-width="1.3"/>
<path d="M604.1 329.0 C607.1 329.4 617.6 330.2 622.3 331.4 C626.9 332.6 630.0 333.4 632.0 336.3 C634.0 339.1 634.8 344.8 634.4 348.4 C634.0 352.1 630.4 356.5 629.6 358.1" fill="none" stroke="#7b7b7b" stroke-width="1.3"/>
<path d="M600.4 359.4 C602.0 358.3 605.7 353.9 610.1 353.3 C614.6 352.7 621.9 354.5 627.1 355.7 C632.4 356.9 637.7 361.0 641.7 360.6 C645.8 360.2 650.2 357.3 651.4 353.3 C652.6 349.2 649.0 340.3 649.0 336.3 C649.0 332.2 649.4 330.4 651.4 329.0 C653.4 327.6 659.5 328.0 661.1 327.8" fill="none" stroke="#7b7b7b" stroke-width="1.3"/>
<path d="M646.6 372.7 C647.4 371.1 651.4 366.6 651.4 363.0 C651.4 359.4 647.8 354.1 646.6 350.9 C645.3 347.6 643.3 346.8 644.1 343.6 C644.9 340.3 649.0 333.9 651.4 331.4 C653.8 329.0 656.7 328.2 658.7 329.0 C660.7 329.8 662.5 332.0 663.6 336.3 C664.6 340.5 664.6 351.5 664.8 354.5" fill="none" stroke="#7b7b7b" stroke-width="1.3"/>
<text x="75.7" y="414.6" font-family="'Liberation Serif','Times New Roman',serif" font-weight="bold" font-size="18.4" fill="#111">Hydrogen bonding</text>
<text x="320.5" y="414.6" font-family="'Liberation Serif','Times New Roman',serif" font-weight="bold" font-size="18.4" fill="#111">Electrostatic interaction</text>
<text x="573.7" y="413.8" font-family="'Liberation Serif','Times New Roman',serif" font-weight="bold" font-size="18.4" fill="#111">Entanglement</text>
<text x="4" y="450.7" font-family="'Liberation Serif','Times New Roman',serif" font-weight="bold" font-size="24">b)</text>
<rect x="51.5" y="446.5" width="172.7" height="127.1" fill="none" stroke="#444" stroke-width="1"/>
<line x1="53.2" y1="573.6" x2="53.2" y2="575.6" stroke="#333" stroke-width="0.8"/>
<text x="53.2" y="582.3" text-anchor="middle" font-family="'Liberation Sans',Arial,sans-serif" font-weight="bold" font-size="6.6">4000</text>
<line x1="77.7" y1="573.6" x2="77.7" y2="575.6" stroke="#333" stroke-width="0.8"/>
<text x="77.7" y="582.3" text-anchor="middle" font-family="'Liberation Sans',Arial,sans-serif" font-weight="bold" font-size="6.6">3500</text>
<line x1="102.1" y1="573.6" x2="102.1" y2="575.6" stroke="#333" stroke-width="0.8"/>
<text x="102.1" y="582.3" text-anchor="middle" font-family="'Liberation Sans',Arial,sans-serif" font-weight="bold" font-size="6.6">3000</text>
<line x1="126.5" y1="573.6" x2="126.5" y2="575.6" stroke="#333" stroke-width="0.8"/>
<text x="126.5" y="582.3" text-anchor="middle" font-family="'Liberation Sans',Arial,sans-serif" font-weight="bold" font-size="6.6">2500</text>
<line x1="151.0" y1="573.6" x2="151.0" y2="575.6" stroke="#333" stroke-width="0.8"/>
<text x="151.0" y="582.3" text-anchor="middle" font-family="'Liberation Sans',Arial,sans-serif" font-weight="bold" font-size="6.6">2000</text>
<line x1="175.4" y1="573.6" x2="175.4" y2="575.6" stroke="#333" stroke-width="0.8"/>
<text x="175.4" y="582.3" text-anchor="middle" font-family="'Liberation Sans',Arial,sans-serif" font-weight="bold" font-size="6.6">1500</text>
<line x1="199.9" y1="573.6" x2="199.9" y2="575.6" stroke="#333" stroke-width="0.8"/>
<text x="199.9" y="582.3" text-anchor="middle" font-family="'Liberation Sans',Arial,sans-serif" font-weight="bold" font-size="6.6">1000</text>
<line x1="224.4" y1="573.6" x2="224.4" y2="575.6" stroke="#333" stroke-width="0.8"/>
<text x="224.4" y="582.3" text-anchor="middle" font-family="'Liberation Sans',Arial,sans-serif" font-weight="bold" font-size="6.6">500</text>
<path d="M53.2 457.5 C55.9 457.1 65.2 454.3 69.3 455.0 C73.4 455.7 74.8 458.6 77.6 461.7 C80.4 464.8 83.8 472.1 86.0 473.9 C88.2 475.7 89.2 472.3 90.5 472.6 C91.8 472.9 91.7 477.9 93.7 475.9 C95.7 473.9 100.8 462.5 102.7 460.4 C104.6 458.2 104.4 463.1 105.3 463.0 C106.2 462.9 106.4 460.8 107.9 459.8 C109.4 458.8 111.1 457.9 114.3 457.2 C117.5 456.4 122.8 455.6 127.1 455.3 C131.4 455.0 134.0 455.5 140.0 455.5 C146.0 455.5 158.9 455.0 163.1 455.3 C167.3 455.6 164.1 451.2 165.1 457.2 C166.1 463.2 167.1 489.6 168.9 491.3 C170.7 493.0 174.5 469.9 176.0 467.5 C177.5 465.1 177.1 476.4 177.9 477.1 C178.8 477.9 180.0 471.8 181.1 472.0 C182.2 472.2 183.2 478.3 184.4 478.4 C185.6 478.5 187.0 473.2 188.2 472.6 C189.4 472.0 190.5 474.8 191.5 475.0 C192.5 475.2 193.2 473.8 194.0 474.0 C194.8 474.2 195.8 476.8 196.6 476.5 C197.4 476.2 197.6 473.2 199.1 472.0 C200.6 470.8 202.6 466.0 205.6 469.4 C208.6 472.8 214.2 487.6 217.1 492.6 C220.0 497.6 221.9 498.4 222.9 499.6" fill="none" stroke="green" stroke-width="1.1"/>
<path d="M53.2 477.8 C55.9 477.7 65.2 476.7 69.3 477.1 C73.4 477.6 74.8 478.9 77.6 480.5 C80.4 482.1 83.8 485.8 86.0 486.8 C88.2 487.8 89.2 486.1 90.5 486.4 C91.8 486.7 91.7 489.7 93.7 488.7 C95.7 487.7 100.8 481.5 102.7 480.4 C104.6 479.3 104.4 482.3 105.3 482.3 C106.2 482.3 106.4 480.9 107.9 480.4 C109.4 479.9 111.1 479.5 114.3 479.2 C117.5 478.9 122.8 478.6 127.1 478.4 C131.4 478.2 134.0 477.9 140.0 477.8 C146.0 477.7 158.9 477.5 163.1 477.8 C167.3 478.1 164.1 476.1 165.1 479.5 C166.1 482.9 167.1 497.7 168.9 498.4 C170.7 499.1 174.5 485.1 176.0 483.6 C177.5 482.1 177.1 489.2 177.9 489.4 C178.8 489.6 180.0 485.0 181.1 485.0 C182.2 485.0 183.2 489.2 184.4 489.4 C185.6 489.6 187.0 486.6 188.2 486.0 C189.4 485.4 190.0 485.9 191.4 486.1 C192.8 486.4 195.3 487.7 196.6 487.5 C197.9 487.3 197.6 485.8 199.1 485.0 C200.6 484.2 202.6 481.0 205.6 482.9 C208.6 484.8 214.2 493.1 217.1 496.4 C220.0 499.7 221.9 501.8 222.9 502.9" fill="none" stroke="#ff22ff" stroke-width="1.1"/>
<path d="M53.2 497.1 C55.9 496.9 65.2 495.0 69.3 495.8 C73.4 496.6 74.8 499.1 77.6 502.0 C80.4 504.9 83.8 511.5 86.0 513.1 C88.2 514.7 89.2 511.2 90.5 511.6 C91.8 512.0 91.7 517.4 93.7 515.5 C95.7 513.6 100.8 502.4 102.7 500.3 C104.6 498.2 104.4 503.1 105.3 502.9 C106.2 502.7 106.4 499.9 107.9 499.0 C109.4 498.1 111.1 497.9 114.3 497.5 C117.5 497.1 122.8 496.6 127.1 496.4 C131.4 496.2 134.0 496.2 140.0 496.2 C146.0 496.2 158.9 495.9 163.1 496.4 C167.3 496.9 164.1 493.3 165.1 499.0 C166.1 504.7 167.1 529.3 168.9 530.5 C170.7 531.7 174.5 508.4 176.0 506.1 C177.5 503.9 177.1 516.4 177.9 517.0 C178.8 517.6 180.0 510.0 181.1 510.0 C182.2 510.0 183.2 517.0 184.4 517.0 C185.6 517.0 187.0 510.7 188.2 510.0 C189.4 509.3 190.5 512.3 191.5 513.0 C192.5 513.7 192.7 514.7 194.0 514.4 C195.3 514.1 197.3 512.2 199.1 511.0 C200.9 509.8 201.9 504.7 204.9 507.4 C207.9 510.1 214.1 522.4 217.1 527.3 C220.1 532.2 221.9 535.3 222.9 536.9" fill="none" stroke="#2020ff" stroke-width="1.1"/>
<path d="M53.2 520.9 C55.9 520.9 65.2 520.3 69.3 520.9 C73.4 521.5 74.8 522.6 77.6 524.5 C80.4 526.4 83.8 531.2 86.0 532.4 C88.2 533.6 89.2 531.5 90.5 531.8 C91.8 532.1 91.7 535.5 93.7 534.4 C95.7 533.3 100.8 526.6 102.7 525.4 C104.6 524.2 104.4 527.3 105.3 527.3 C106.2 527.3 106.4 525.9 107.9 525.4 C109.4 524.9 111.1 524.4 114.3 524.0 C117.5 523.6 122.8 523.1 127.1 522.8 C131.4 522.5 134.0 522.4 140.0 522.1 C146.0 521.8 158.9 520.8 163.1 520.9 C167.3 521.0 164.1 519.1 165.1 523.0 C166.1 526.9 167.1 543.4 168.9 544.0 C170.7 544.6 174.5 528.4 176.0 526.6 C177.5 524.8 177.1 532.8 177.9 533.1 C178.8 533.4 180.0 528.4 181.1 528.5 C182.2 528.6 183.2 533.6 184.4 533.7 C185.6 533.8 186.9 529.7 188.2 529.2 C189.5 528.8 190.7 530.9 192.0 531.0 C193.3 531.1 193.6 530.7 196.0 530.0 C198.4 529.3 203.1 525.8 206.2 526.6 C209.3 527.4 211.8 531.5 214.6 535.0 C217.4 538.5 221.5 545.8 222.9 547.9" fill="none" stroke="#ff2a2a" stroke-width="1.1"/>
<path d="M53.2 546.6 C55.9 546.4 65.2 545.0 69.3 545.3 C73.4 545.6 74.8 547.0 77.6 548.5 C80.4 550.0 83.8 553.4 86.0 554.3 C88.2 555.2 89.2 553.8 90.5 554.0 C91.8 554.2 91.7 556.6 93.7 555.6 C95.7 554.6 100.8 548.9 102.7 547.9 C104.6 546.9 104.4 549.8 105.3 549.8 C106.2 549.8 106.4 548.4 107.9 547.9 C109.4 547.4 111.1 547.2 114.3 547.0 C117.5 546.8 122.8 546.7 127.1 546.6 C131.4 546.5 134.0 546.4 140.0 546.3 C146.0 546.2 158.9 545.6 163.1 545.9 C167.3 546.2 164.2 544.7 165.1 548.0 C166.0 551.3 166.5 565.4 168.3 565.9 C170.1 566.4 174.3 552.7 176.0 551.1 C177.7 549.5 177.8 555.9 178.6 556.2 C179.4 556.5 180.1 553.0 181.1 553.0 C182.1 553.0 183.1 556.1 184.4 556.0 C185.7 555.9 187.2 552.7 188.8 552.5 C190.4 552.3 191.4 555.2 194.0 554.9 C196.6 554.5 200.9 549.9 204.3 550.4 C207.7 550.9 211.5 555.0 214.6 558.1 C217.7 561.2 221.5 567.3 222.9 569.1" fill="none" stroke="#202020" stroke-width="1.1"/>
<text x="132.2" y="470.2" text-anchor="middle" font-family="'Liberation Serif','Times New Roman',serif" font-weight="bold" font-size="7" fill="#222">P(AAm-THMA-ILs)/PP</text>
<text x="134.3" y="488.7" text-anchor="middle" font-family="'Liberation Serif','Times New Roman',serif" font-weight="bold" font-size="7" fill="#222">P(AAm-THMA)/PP</text>
<text x="133.5" y="506.5" text-anchor="middle" font-family="'Liberation Serif','Times New Roman',serif" font-weight="bold" font-size="7" fill="#222">P(AAm-ILs)/PP</text>
<text x="134.9" y="531.8" text-anchor="middle" font-family="'Liberation Serif','Times New Roman',serif" font-weight="bold" font-size="7" fill="#222">PAAm/PP</text>
<text x="134.9" y="554.8" text-anchor="middle" font-family="'Liberation Serif','Times New Roman',serif" font-weight="bold" font-size="7" fill="#222">PAAm</text>
<text x="141" y="607" text-anchor="middle" font-family="'Liberation Serif','Times New Roman',serif" font-weight="bold" font-size="16.5">Wavenumber (cm<tspan font-size="10" dy="-6">-1</tspan><tspan dy="6">)</tspan></text>
<text x="0" y="0" text-anchor="middle" transform="translate(36.2 513.4) rotate(-90)" font-family="'Liberation Serif','Times New Roman',serif" font-weight="bold" font-size="16.7">Transmittance</text>
<text x="232.5" y="450.4" font-family="'Liberation Serif','Times New Roman',serif" font-weight="bold" font-size="24">c)</text>
<rect x="291" y="446.2" width="171.5" height="129.2" fill="none" stroke="#444" stroke-width="1"/>
<line x1="291.0" y1="575.4" x2="291.0" y2="577.4" stroke="#333" stroke-width="0.8"/>
<text x="291.0" y="585.1" text-anchor="middle" font-family="'Liberation Sans',Arial,sans-serif" font-weight="bold" font-size="6.6">0</text>
<line x1="325.3" y1="575.4" x2="325.3" y2="577.4" stroke="#333" stroke-width="0.8"/>
<text x="325.3" y="585.1" text-anchor="middle" font-family="'Liberation Sans',Arial,sans-serif" font-weight="bold" font-size="6.6">400</text>
<line x1="359.6" y1="575.4" x2="359.6" y2="577.4" stroke="#333" stroke-width="0.8"/>
<text x="359.6" y="585.1" text-anchor="middle" font-family="'Liberation Sans',Arial,sans-serif" font-weight="bold" font-size="6.6">800</text>
<line x1="393.9" y1="575.4" x2="393.9" y2="577.4" stroke="#333" stroke-width="0.8"/>
<text x="393.9" y="585.1" text-anchor="middle" font-family="'Liberation Sans',Arial,sans-serif" font-weight="bold" font-size="6.6">1200</text>
<line x1="428.2" y1="575.4" x2="428.2" y2="577.4" stroke="#333" stroke-width="0.8"/>
<text x="428.2" y="585.1" text-anchor="middle" font-family="'Liberation Sans',Arial,sans-serif" font-weight="bold" font-size="6.6">1600</text>
<line x1="462.5" y1="575.4" x2="462.5" y2="577.4" stroke="#333" stroke-width="0.8"/>
<text x="462.5" y="585.1" text-anchor="middle" font-family="'Liberation Sans',Arial,sans-serif" font-weight="bold" font-size="6.6">2000</text>
<line x1="289" y1="575.4" x2="291" y2="575.4" stroke="#333" stroke-width="0.8"/>
<text x="288" y="577.7" text-anchor="end" font-family="'Liberation Sans',Arial,sans-serif" font-weight="bold" font-size="6.6">0</text>
<line x1="289" y1="551.0" x2="291" y2="551.0" stroke="#333" stroke-width="0.8"/>
<text x="288" y="553.3" text-anchor="end" font-family="'Liberation Sans',Arial,sans-serif" font-weight="bold" font-size="6.6">50</text>
<line x1="289" y1="526.7" x2="291" y2="526.7" stroke="#333" stroke-width="0.8"/>
<text x="288" y="529.0" text-anchor="end" font-family="'Liberation Sans',Arial,sans-serif" font-weight="bold" font-size="6.6">100</text>
<line x1="289" y1="502.3" x2="291" y2="502.3" stroke="#333" stroke-width="0.8"/>
<text x="288" y="504.6" text-anchor="end" font-family="'Liberation Sans',Arial,sans-serif" font-weight="bold" font-size="6.6">150</text>
<line x1="289" y1="478.0" x2="291" y2="478.0" stroke="#333" stroke-width="0.8"/>
<text x="288" y="480.3" text-anchor="end" font-family="'Liberation Sans',Arial,sans-serif" font-weight="bold" font-size="6.6">200</text>
<line x1="289" y1="453.6" x2="291" y2="453.6" stroke="#333" stroke-width="0.8"/>
<text x="288" y="455.9" text-anchor="end" font-family="'Liberation Sans',Arial,sans-serif" font-weight="bold" font-size="6.6">250</text>
<path d="M291.0 575.4 C291.7 574.7 293.8 572.1 295.0 571.0 C296.2 569.9 295.5 569.8 298.0 569.0 C300.5 568.2 299.7 569.2 310.0 566.0 C320.3 562.8 351.3 552.3 359.6 549.6 L359.6 564.0" fill="none" stroke="#b0b0b0" stroke-width="1.2" stroke-linejoin="round"/>
<path d="M291.0 575.4 C291.7 574.9 293.8 573.2 295.0 572.5 C296.2 571.8 295.5 571.8 298.0 571.0 C300.5 570.2 298.3 571.6 310.0 568.0 C321.7 564.4 358.7 552.7 368.4 549.6 L368.4 564.0" fill="none" stroke="#ff4050" stroke-width="1.2" stroke-linejoin="round"/>
<path d="M291.0 575.4 C291.5 574.7 292.8 572.2 294.0 571.0 C295.2 569.8 295.3 569.5 298.0 568.0 C300.7 566.5 304.7 564.7 310.0 562.0 C315.3 559.3 323.7 555.7 330.0 552.0 C336.3 548.3 342.7 544.3 348.0 540.0 C353.3 535.7 358.0 530.3 362.0 526.0 C366.0 521.7 369.3 518.0 372.0 514.0 C374.7 510.0 377.0 504.0 378.0 502.0 L378.0 516.0" fill="none" stroke="#3a96ff" stroke-width="1.2" stroke-linejoin="round"/>
<path d="M291.0 575.4 C291.5 574.3 292.8 570.9 294.0 569.0 C295.2 567.1 295.3 566.5 298.0 564.0 C300.7 561.5 305.3 558.0 310.0 554.0 C314.7 550.0 321.0 544.7 326.0 540.0 C331.0 535.3 335.3 531.0 340.0 526.0 C344.7 521.0 349.7 515.3 354.0 510.0 C358.3 504.7 362.4 498.7 366.0 494.0 C369.6 489.3 374.0 483.7 375.6 481.6 L375.6 497.0" fill="none" stroke="#ff9a30" stroke-width="1.2" stroke-linejoin="round"/>
<path d="M291.0 575.4 C291.5 573.8 292.8 568.9 294.0 566.0 C295.2 563.1 295.7 561.0 298.0 558.0 C300.3 555.0 304.3 551.3 308.0 548.0 C311.7 544.7 315.3 542.8 320.0 538.0 C324.7 533.2 331.0 525.0 336.0 519.0 C341.0 513.0 345.7 508.0 350.0 502.0 C354.3 496.0 357.3 491.2 362.0 483.0 C366.7 474.8 375.3 458.0 378.0 453.0 L378.0 467.0" fill="none" stroke="#2ca02c" stroke-width="1.2" stroke-linejoin="round"/>
<line x1="382.1" y1="452.9" x2="397.4" y2="452.9" stroke="#c0c0c0" stroke-width="1.2"/>
<text x="399.3" y="455.09999999999997" font-family="'Liberation Sans',Arial,sans-serif" font-weight="bold" font-size="6">PAAm</text>
<line x1="382.1" y1="461.4" x2="397.4" y2="461.4" stroke="#ff6070" stroke-width="1.2"/>
<text x="399.3" y="463.59999999999997" font-family="'Liberation Sans',Arial,sans-serif" font-weight="bold" font-size="6">PAAm/PP</text>
<line x1="382.1" y1="470.4" x2="397.4" y2="470.4" stroke="#4aa0ff" stroke-width="1.2"/>
<text x="399.3" y="472.59999999999997" font-family="'Liberation Sans',Arial,sans-serif" font-weight="bold" font-size="6">P(AAm-ILs)/PP</text>
<line x1="382.1" y1="478.9" x2="397.4" y2="478.9" stroke="#ffa040" stroke-width="1.2"/>
<text x="399.3" y="481.09999999999997" font-family="'Liberation Sans',Arial,sans-serif" font-weight="bold" font-size="6">P(AAm-THMA)/PP</text>
<line x1="382.1" y1="487.4" x2="397.4" y2="487.4" stroke="#30a030" stroke-width="1.2"/>
<text x="399.3" y="489.59999999999997" font-family="'Liberation Sans',Arial,sans-serif" font-weight="bold" font-size="6">P(AAm-THMA-ILs)/PP</text>
<text x="373.4" y="607.1" text-anchor="middle" font-family="'Liberation Serif','Times New Roman',serif" font-weight="bold" font-size="16.5">Tensile strain (%)</text>
<text x="0" y="0" text-anchor="middle" transform="translate(264.8 513) rotate(-90)" font-family="'Liberation Serif','Times New Roman',serif" font-weight="bold" font-size="16.2">Tensile stress (kPa)</text>
<text x="469.5" y="451.5" font-family="'Liberation Serif','Times New Roman',serif" font-weight="bold" font-size="24">d)</text>
<polygon points="547.9,451.4 612.1,498.0 587.6,573.5 508.2,573.5 483.7,498.0" fill="none" stroke="#999" stroke-width="0.8"/>
<polygon points="547.9,460.6 601.8,501.4 580.3,563.5 512.7,567.3 488.8,499.7" fill="#7070ee" fill-opacity="0.55" stroke="#3030ff" stroke-width="1.1"/>
<polygon points="547.9,461.5 587.7,506.0 570.1,549.5 522.9,553.3 507.5,505.8" fill="#3a7aa0" fill-opacity="0.45" stroke="#2a8a6a" stroke-width="1.1"/>
<polygon points="547.9,461.5 580.6,508.3 563.8,540.7 528.9,545.1 517.7,509.1" fill="#806060" fill-opacity="0.35" stroke="#c08050" stroke-width="1.1"/>
<polygon points="547.9,460.8 557.5,515.8 555.8,529.8 539.2,530.9 540.2,516.4" fill="#40a090" fill-opacity="0.7" stroke="#40b0b0" stroke-width="1"/>
<polygon points="547.9,502.0 563.9,513.7 557.8,532.6 538.0,532.6 531.9,513.7" fill="none" stroke="#777" stroke-opacity="0.6" stroke-width="0.6"/>
<polygon points="547.9,485.1 580.0,508.5 567.7,546.2 528.1,546.2 515.8,508.5" fill="none" stroke="#777" stroke-opacity="0.6" stroke-width="0.6"/>
<polygon points="547.9,468.3 596.0,503.3 577.7,559.9 518.1,559.9 499.8,503.3" fill="none" stroke="#777" stroke-opacity="0.6" stroke-width="0.6"/>
<line x1="547.9" y1="518.9" x2="547.9" y2="451.4" stroke="#222" stroke-width="0.8"/>
<line x1="547.9" y1="518.9" x2="612.1" y2="498.0" stroke="#222" stroke-width="0.8"/>
<line x1="547.9" y1="518.9" x2="587.6" y2="573.5" stroke="#222" stroke-width="0.8"/>
<line x1="547.9" y1="518.9" x2="508.2" y2="573.5" stroke="#222" stroke-width="0.8"/>
<line x1="547.9" y1="518.9" x2="483.7" y2="498.0" stroke="#222" stroke-width="0.8"/>
<circle cx="547.9" cy="460.6" r="1.6" fill="#2020ff"/>
<circle cx="601.8" cy="501.4" r="1.6" fill="#2020ff"/>
<circle cx="580.3" cy="563.5" r="1.6" fill="#2020ff"/>
<circle cx="512.7" cy="567.3" r="1.6" fill="#2020ff"/>
<circle cx="488.8" cy="499.7" r="1.6" fill="#2020ff"/>
<circle cx="547.9" cy="461.5" r="1.6" fill="#208040"/>
<circle cx="587.7" cy="506.0" r="1.6" fill="#208040"/>
<circle cx="570.1" cy="549.5" r="1.6" fill="#208040"/>
<circle cx="522.9" cy="553.3" r="1.6" fill="#208040"/>
<circle cx="507.5" cy="505.8" r="1.6" fill="#208040"/>
<circle cx="547.9" cy="461.5" r="1.6" fill="#e08040"/>
<circle cx="580.6" cy="508.3" r="1.6" fill="#e08040"/>
<circle cx="563.8" cy="540.7" r="1.6" fill="#e08040"/>
<circle cx="528.9" cy="545.1" r="1.6" fill="#e08040"/>
<circle cx="517.7" cy="509.1" r="1.6" fill="#e08040"/>
<text x="539.3" y="453" text-anchor="middle" font-family="'Liberation Sans',Arial,sans-serif" font-weight="bold" font-size="6.4" fill="#111">1200</text>
<text x="540.4" y="471.2" text-anchor="middle" font-family="'Liberation Sans',Arial,sans-serif" font-weight="bold" font-size="6.4" fill="#111">900</text>
<text x="541.4" y="485.2" text-anchor="middle" font-family="'Liberation Sans',Arial,sans-serif" font-weight="bold" font-size="6.4" fill="#111">600</text>
<text x="541.9" y="499.7" text-anchor="middle" font-family="'Liberation Sans',Arial,sans-serif" font-weight="bold" font-size="6.4" fill="#111">300</text>
<text x="610" y="495.9" text-anchor="middle" font-family="'Liberation Sans',Arial,sans-serif" font-weight="bold" font-size="6.4" fill="#111">300</text>
<text x="592.4" y="497.6" text-anchor="middle" font-family="'Liberation Sans',Arial,sans-serif" font-weight="bold" font-size="6.4" fill="#111">200</text>
<text x="568.2" y="508.7" text-anchor="middle" font-family="'Liberation Sans',Arial,sans-serif" font-weight="bold" font-size="6.4" fill="#111">100</text>
<text x="592.4" y="574.1" text-anchor="middle" font-family="'Liberation Sans',Arial,sans-serif" font-weight="bold" font-size="6.4" fill="#111">1.5</text>
<text x="577.9" y="554.2" text-anchor="middle" font-family="'Liberation Sans',Arial,sans-serif" font-weight="bold" font-size="6.4" fill="#111">1.0</text>
<text x="566.1" y="536.2" text-anchor="middle" font-family="'Liberation Sans',Arial,sans-serif" font-weight="bold" font-size="6.4" fill="#111">0.5</text>
<text x="511.4" y="576.2" text-anchor="middle" font-family="'Liberation Sans',Arial,sans-serif" font-weight="bold" font-size="6.4" fill="#111">45</text>
<text x="528.6" y="555.2" text-anchor="middle" font-family="'Liberation Sans',Arial,sans-serif" font-weight="bold" font-size="6.4" fill="#111">30</text>
<text x="541.4" y="538.1" text-anchor="middle" font-family="'Liberation Sans',Arial,sans-serif" font-weight="bold" font-size="6.4" fill="#111">15</text>
<text x="482.5" y="504.4" text-anchor="middle" font-family="'Liberation Sans',Arial,sans-serif" font-weight="bold" font-size="6.4" fill="#111">40</text>
<text x="496.4" y="509.2" text-anchor="middle" font-family="'Liberation Sans',Arial,sans-serif" font-weight="bold" font-size="6.4" fill="#111">30</text>
<text x="513.1" y="515.2" text-anchor="middle" font-family="'Liberation Sans',Arial,sans-serif" font-weight="bold" font-size="6.4" fill="#111">20</text>
<text x="532.4" y="522" text-anchor="middle" font-family="'Liberation Sans',Arial,sans-serif" font-weight="bold" font-size="6.4" fill="#111">10</text>
<text x="0" y="0" text-anchor="middle" dominant-baseline="central" transform="translate(579.8 465) rotate(38.5)" font-family="'Liberation Serif','Times New Roman',serif" font-weight="bold" font-size="7.6">Tensile strain (%)</text>
<text x="0" y="0" text-anchor="middle" dominant-baseline="central" transform="translate(606.5 534.5) rotate(109)" font-family="'Liberation Serif','Times New Roman',serif" font-weight="bold" font-size="7.6">Tensile strength (kPa)</text>
<text x="552.2" y="581.5" text-anchor="middle" font-family="'Liberation Serif','Times New Roman',serif" font-weight="bold" font-size="7.6">Toughness (MJ/m<tspan font-size="5" dy="-3">3</tspan><tspan dy="3">)</tspan></text>
<text x="0" y="0" text-anchor="middle" dominant-baseline="central" transform="translate(488.5 539.5) rotate(-107)" font-family="'Liberation Serif','Times New Roman',serif" font-weight="bold" font-size="7.6">Modulus (kPa)</text>
<text x="0" y="0" text-anchor="middle" dominant-baseline="central" transform="translate(500.3 477.5) rotate(-35)" font-family="'Liberation Serif','Times New Roman',serif" font-weight="bold" font-size="7.6">Fracture energy (kJ/m<tspan font-size="5" dy="-3">2</tspan><tspan dy="3">)</tspan></text>
<line x1="606" y1="449.7" x2="621.4" y2="449.7" stroke="#8b8b30" stroke-width="1.1"/>
<circle cx="613.7" cy="449.7" r="1.3" fill="#8b8b30"/>
<text x="623.6" y="452.09999999999997" font-family="'Liberation Sans',Arial,sans-serif" font-weight="bold" font-size="6.7">PAAm</text>
<line x1="606" y1="458.3" x2="621.4" y2="458.3" stroke="#40e0ff" stroke-width="1.1"/>
<circle cx="613.7" cy="458.3" r="1.3" fill="#40e0ff"/>
<text x="623.6" y="460.7" font-family="'Liberation Sans',Arial,sans-serif" font-weight="bold" font-size="6.7">PAAm/PP</text>
<line x1="606" y1="466.9" x2="621.4" y2="466.9" stroke="#ffa060" stroke-width="1.1"/>
<circle cx="613.7" cy="466.9" r="1.3" fill="#ffa060"/>
<text x="623.6" y="469.29999999999995" font-family="'Liberation Sans',Arial,sans-serif" font-weight="bold" font-size="6.7">P(AAm-ILs)/PP</text>
<line x1="606" y1="475.4" x2="621.4" y2="475.4" stroke="#60b060" stroke-width="1.1"/>
<circle cx="613.7" cy="475.4" r="1.3" fill="#60b060"/>
<text x="623.6" y="477.79999999999995" font-family="'Liberation Sans',Arial,sans-serif" font-weight="bold" font-size="6.7">P(AAm-THMA)/PP</text>
<line x1="606" y1="484.6" x2="621.4" y2="484.6" stroke="#3a3aff" stroke-width="1.1"/>
<circle cx="613.7" cy="484.6" r="1.3" fill="#3a3aff"/>
<text x="623.6" y="487.0" font-family="'Liberation Sans',Arial,sans-serif" font-weight="bold" font-size="6.7">P(AAm-THMA-ILs)/PP</text>
<defs><linearGradient id="ebg" x1="0" y1="0" x2="1" y2="0"><stop offset="0" stop-color="#b0b0ac"/><stop offset="0.5" stop-color="#c4c4bf"/><stop offset="1" stop-color="#cbcbc6"/></linearGradient><linearGradient id="edark" x1="0" y1="0" x2="1" y2="0"><stop offset="0" stop-color="#37383b"/><stop offset="0.75" stop-color="#5c5d60"/><stop offset="1" stop-color="#8e8e8e"/></linearGradient><linearGradient id="gl1" x1="0" y1="0" x2="0" y2="1"><stop offset="0" stop-color="#6a8de0"/><stop offset="0.45" stop-color="#5879d6"/><stop offset="0.72" stop-color="#3d5bbd"/><stop offset="0.9" stop-color="#283e94"/><stop offset="1" stop-color="#1e2f78"/></linearGradient><linearGradient id="gl2" x1="0" y1="0" x2="0" y2="1"><stop offset="0" stop-color="#3a5bc6"/><stop offset="1" stop-color="#253f9c"/></linearGradient></defs>
<text x="6.7" y="644.2" font-family="'Liberation Serif','Times New Roman',serif" font-weight="bold" font-size="24">e)</text>
<clipPath id="cp1"><rect x="42.6" y="636.2" width="123.3" height="111.4"/></clipPath>
<g clip-path="url(#cp1)">
<rect x="42.6" y="636.2" width="123.3" height="111.4" fill="url(#ebg)"/>
<rect x="42.6" y="694.2" width="66.0" height="53.400000000000006" fill="url(#edark)"/>
<path d="M37.6 754.2 C27.1 753.1 46.0 751.1 51.1 747.6 C56.2 744.1 62.0 737.9 67.9 733.3 C73.8 728.8 81.5 723.4 86.4 720.3 C91.4 717.2 92.9 715.9 97.6 714.7 C102.2 713.5 109.4 712.9 114.3 712.9 C119.3 712.9 124.8 713.5 127.3 714.7 C129.8 715.9 129.4 718.1 129.1 720.3 C128.8 722.5 127.2 724.9 125.4 727.7 C123.6 730.5 119.8 732.6 118.0 737.0 C116.2 741.4 127.7 751.3 114.3 754.2 C100.9 757.1 48.1 755.3 37.6 754.2 Z" fill="url(#gl2)"/>
<rect x="96.6" y="696.2" width="32.2" height="17.6" rx="4" fill="#0c0c10"/>
<path d="M37.6 631.2 C47.9 619.9 87.2 629.4 99.4 631.2 C111.6 633.1 106.8 638.9 110.5 642.3 C114.2 645.7 118.0 648.2 121.7 651.6 C125.4 655.0 130.4 659.4 132.9 662.8 C135.4 666.2 136.3 669.2 136.6 672.0 C136.9 674.8 135.6 677.3 134.7 679.5 C133.8 681.7 131.6 682.8 131.0 685.0 C130.4 687.2 131.6 690.5 131.0 692.5 C130.4 694.5 132.9 696.3 127.3 697.1 C121.7 697.9 104.4 697.2 97.6 697.1 C90.8 697.0 90.4 696.2 86.4 696.2 C82.4 696.2 78.0 697.0 73.4 697.1 C68.8 697.2 64.6 696.8 58.6 697.1 C52.6 697.4 41.1 710.0 37.6 699.0 C34.1 688.0 27.3 642.5 37.6 631.2 Z" fill="url(#gl1)"/>
<path d="M37.6 631.2 C47.9 627.9 87.2 629.4 99.4 631.2 C111.6 633.1 106.8 638.9 110.5 642.3 C114.2 645.7 118.3 648.1 121.7 651.6 C125.0 655.1 131.8 662.1 130.6 663.2 C129.4 664.3 121.8 659.7 114.6 658.2 C107.4 656.7 96.3 655.4 87.6 654.2 C78.9 653.0 70.9 651.7 62.6 651.2 C54.3 650.7 41.8 654.5 37.6 651.2 C33.4 647.9 27.3 634.5 37.6 631.2 Z" fill="#7396e2" opacity="0.8"/>
<path d="M130.6 663.2 L114.6 658.2 L87.6 654.2 L62.6 651.2 L37.6 651.2" fill="none" stroke="#2d4aae" stroke-width="1.3" stroke-linejoin="round"/>
</g>
<rect x="137.1" y="742.0" width="20.400000000000006" height="2.6" fill="#111"/>
<clipPath id="cp2"><rect x="214.8" y="636.2" width="123.3" height="111.4"/></clipPath>
<g clip-path="url(#cp2)">
<rect x="214.8" y="636.2" width="123.3" height="111.4" fill="url(#ebg)"/>
<rect x="214.8" y="702.2" width="61.2" height="45.400000000000006" fill="url(#edark)"/>
<path d="M209.8 754.2 C196.4 751.2 206.3 740.3 209.8 736.2 C213.3 732.1 224.0 732.6 230.6 729.6 C237.2 726.6 243.3 721.4 249.2 718.5 C255.1 715.6 259.6 713.2 265.8 712.0 C272.0 710.8 280.1 710.9 286.3 711.0 C292.5 711.1 299.9 711.4 303.0 712.9 C306.1 714.5 305.4 717.2 304.8 720.3 C304.2 723.4 301.1 728.1 299.3 731.5 C297.5 734.9 295.3 736.9 293.7 740.7 C292.2 744.5 304.0 752.0 290.0 754.2 C276.0 756.5 223.2 757.2 209.8 754.2 Z" fill="url(#gl2)"/>
<rect x="264.0" y="699.9" width="45.5" height="13.0" rx="4" fill="#0c0c10"/>
<path d="M209.8 631.2 C221.0 618.5 263.3 628.7 277.0 631.2 C290.7 633.7 287.3 641.4 291.9 646.0 C296.5 650.6 301.1 655.0 304.8 659.0 C308.6 663.0 313.1 667.1 314.4 670.2 C315.6 673.3 313.7 675.1 312.3 677.6 C310.9 680.1 306.7 682.5 305.8 685.0 C304.9 687.5 307.0 690.0 306.8 692.5 C306.6 695.0 311.6 697.9 304.8 699.9 C298.0 701.9 275.1 703.9 265.8 704.5 C256.5 705.1 255.1 703.4 249.2 703.6 C243.3 703.8 237.2 704.9 230.6 705.5 C224.0 706.1 213.3 719.7 209.8 707.3 C206.3 694.9 198.6 643.9 209.8 631.2 Z" fill="url(#gl1)"/>
<path d="M209.8 631.2 C221.0 627.0 263.3 628.7 277.0 631.2 C290.7 633.7 287.3 641.4 291.9 646.0 C296.5 650.6 301.5 655.1 304.8 659.0 C308.1 662.9 313.5 668.5 311.8 669.2 C310.1 669.9 302.6 665.2 294.8 663.2 C287.0 661.2 274.8 658.5 264.8 657.2 C254.8 655.9 244.0 655.4 234.8 655.2 C225.6 655.0 214.0 660.2 209.8 656.2 C205.6 652.2 198.6 635.4 209.8 631.2 Z" fill="#7396e2" opacity="0.8"/>
<path d="M311.8 669.2 L294.8 663.2 L264.8 657.2 L234.8 655.2 L209.8 656.2" fill="none" stroke="#2d4aae" stroke-width="1.3" stroke-linejoin="round"/>
</g>
<rect x="309.3" y="741.5" width="20.30000000000001" height="2.6" fill="#111"/>
<clipPath id="cp3"><rect x="42.6" y="763.2" width="123.3" height="111.73419999999999"/></clipPath>
<g clip-path="url(#cp3)">
<rect x="42.6" y="763.2" width="123.3" height="111.73419999999999" fill="url(#ebg)"/>
<rect x="42.6" y="829.2" width="59.5" height="45.73419999999999" fill="url(#edark)"/>
<path d="M52.6 881.2 C43.9 880.2 58.2 878.7 62.3 875.2 C66.4 871.7 71.8 864.6 77.1 860.3 C82.3 856.0 87.6 851.8 93.8 849.2 C100.0 846.6 107.9 845.4 114.1 844.6 C120.3 843.8 128.0 843.5 131.0 844.6 C134.0 845.7 132.8 848.4 131.9 851.0 C131.0 853.6 127.7 856.9 125.4 860.3 C123.1 863.7 119.8 868.0 118.0 871.5 C116.2 875.0 125.2 879.6 114.3 881.2 C103.4 882.8 61.3 882.2 52.6 881.2 Z" fill="url(#gl2)"/>
<rect x="90.1" y="834.3" width="40.9" height="13.0" rx="4" fill="#0c0c10"/>
<path d="M37.6 758.2 C45.7 745.8 75.8 755.4 86.4 758.2 C97.0 761.0 96.0 770.3 101.3 774.9 C106.6 779.5 113.0 782.9 118.0 786.0 C123.0 789.1 127.4 790.4 131.0 793.5 C134.6 796.6 137.8 801.2 139.4 804.6 C141.0 808.0 140.8 811.1 140.3 813.9 C139.8 816.7 138.2 819.1 136.6 821.3 C135.0 823.5 132.1 824.7 131.0 826.9 C129.9 829.1 130.7 832.8 130.1 834.3 C129.5 835.9 133.0 836.1 127.3 836.2 C121.6 836.4 104.1 836.0 95.7 835.2 C87.3 834.4 83.3 832.1 77.1 831.5 C70.9 830.9 65.2 831.3 58.6 831.5 C52.0 831.7 41.1 844.7 37.6 832.5 C34.1 820.3 29.5 770.6 37.6 758.2 Z" fill="url(#gl1)"/>
<path d="M37.6 758.2 C45.7 754.2 75.8 755.4 86.4 758.2 C97.0 761.0 96.0 770.3 101.3 774.9 C106.6 779.5 112.5 782.0 118.0 786.0 C123.5 790.0 135.2 798.0 134.6 799.2 C134.0 800.4 122.4 795.2 114.6 793.2 C106.8 791.2 96.3 789.0 87.6 787.2 C78.9 785.4 70.9 783.0 62.6 782.2 C54.3 781.4 41.8 786.2 37.6 782.2 C33.4 778.2 29.5 762.2 37.6 758.2 Z" fill="#7396e2" opacity="0.8"/>
<path d="M134.6 799.2 L114.6 793.2 L87.6 787.2 L62.6 782.2 L37.6 782.2" fill="none" stroke="#2d4aae" stroke-width="1.3" stroke-linejoin="round"/>
</g>
<rect x="137.1" y="870.0" width="20.400000000000006" height="2.6" fill="#111"/>
<clipPath id="cp4"><rect x="214.8" y="763.2" width="123.3" height="111.73419999999999"/></clipPath>
<g clip-path="url(#cp4)">
<rect x="214.8" y="763.2" width="123.3" height="111.73419999999999" fill="url(#ebg)"/>
<rect x="214.8" y="818.2" width="70.5" height="56.73419999999999" fill="url(#edark)"/>
<path d="M209.8 881.2 C198.0 880.2 214.4 878.7 219.4 875.2 C224.4 871.7 233.4 864.6 239.9 860.3 C246.4 856.0 252.2 852.3 258.4 849.2 C264.6 846.1 270.8 843.2 277.0 841.7 C283.2 840.2 291.1 839.9 295.6 839.9 C300.1 839.9 302.4 840.2 303.9 841.7 C305.4 843.2 305.6 846.4 304.8 849.2 C304.0 852.0 301.1 855.4 299.3 858.5 C297.5 861.6 295.3 863.9 293.7 867.7 C292.2 871.5 304.0 879.0 290.0 881.2 C276.0 883.5 221.6 882.2 209.8 881.2 Z" fill="url(#gl2)"/>
<rect x="273.3" y="822.2" width="30.6" height="17.7" rx="4" fill="#0c0c10"/>
<path d="M209.8 758.2 C223.2 747.8 274.8 756.0 290.0 758.2 C305.2 760.4 297.8 767.2 301.2 771.2 C304.6 775.2 308.7 779.2 310.4 782.3 C312.1 785.4 312.0 787.4 311.4 789.8 C310.8 792.2 308.2 794.9 306.8 796.6 C305.4 798.3 303.0 798.4 303.0 800.0 C303.0 801.6 306.0 804.2 306.8 806.5 C307.6 808.8 307.9 811.7 307.6 813.9 C307.3 816.1 306.2 818.0 304.8 819.5 C303.4 821.0 305.5 822.8 299.3 823.2 C293.1 823.7 276.1 822.8 267.7 822.2 C259.3 821.6 255.4 820.0 249.2 819.5 C243.0 819.0 237.2 819.4 230.6 819.5 C224.0 819.6 213.3 830.6 209.8 820.4 C206.3 810.2 196.4 768.6 209.8 758.2 Z" fill="url(#gl1)"/>
<path d="M209.8 758.2 C223.2 754.7 274.8 756.0 290.0 758.2 C305.2 760.4 297.8 767.2 301.2 771.2 C304.6 775.2 309.5 778.1 310.4 782.3 C311.3 786.5 310.2 794.9 306.8 796.2 C303.4 797.5 297.6 792.4 289.8 790.2 C282.0 788.0 269.0 785.0 259.8 783.2 C250.6 781.4 243.1 779.9 234.8 779.2 C226.5 778.5 214.0 782.7 209.8 779.2 C205.6 775.7 196.4 761.7 209.8 758.2 Z" fill="#7396e2" opacity="0.8"/>
<path d="M306.8 796.2 L289.8 790.2 L259.8 783.2 L234.8 779.2 L209.8 779.2" fill="none" stroke="#2d4aae" stroke-width="1.3" stroke-linejoin="round"/>
</g>
<rect x="309.3" y="870.0" width="20.30000000000001" height="2.6" fill="#111"/>
<text x="159.6" y="677.9" font-family="'Liberation Serif','Times New Roman',serif" font-weight="bold" font-size="16.6" fill="#c00000">Pressing</text>
<path d="M173.6 688.1 H197.6 V684.3 L206.1 692 L197.6 699.7 V695.4 H173.6 Z" fill="#c00000"/>
<text x="161.5" y="802.6" font-family="'Liberation Serif','Times New Roman',serif" font-weight="bold" font-size="16.6" fill="#c00000">Bending</text>
<path d="M205.7 815.7 H182.6 V811.5 L174.1 819.6 L182.6 827.7 V823.5 H205.7 Z" fill="#c00000"/>
<path d="M97 769.9 V746.1 H93.2 L101.2 737.9 L109.3 746.1 H105.2 V769.9 Z" fill="#c00000"/>
<text x="0" y="0" text-anchor="middle" transform="translate(88.3 759.8) rotate(-90)" font-family="'Liberation Serif','Times New Roman',serif" font-weight="bold" font-size="16.6" fill="#c00000">Release</text>
<path d="M272.1 741 V765 H267.9 L276.3 773.6 L284.6 765 H280.7 V741 Z" fill="#c00000"/>
<text x="0" y="0" text-anchor="middle" transform="translate(290.4 755.5) rotate(90)" font-family="'Liberation Serif','Times New Roman',serif" font-weight="bold" font-size="16.6" fill="#c00000">Release</text>
<defs><linearGradient id="fclamp" x1="0" y1="0" x2="1" y2="0"><stop offset="0" stop-color="#9ca4a6"/><stop offset="0.3" stop-color="#c8cfd0"/><stop offset="0.5" stop-color="#8f9ba0"/><stop offset="0.7" stop-color="#d0d6d8"/><stop offset="1" stop-color="#8a9294"/></linearGradient><linearGradient id="fclamp2" x1="0" y1="0" x2="1" y2="0"><stop offset="0" stop-color="#8e8e8c"/><stop offset="0.3" stop-color="#bdbdba"/><stop offset="0.55" stop-color="#a9aaa8"/><stop offset="0.75" stop-color="#c6c6c4"/><stop offset="1" stop-color="#8f8f8d"/></linearGradient><linearGradient id="fband" x1="0" y1="0" x2="0" y2="1"><stop offset="0" stop-color="#6f8698"/><stop offset="1" stop-color="#3a4a58"/></linearGradient></defs>
<text x="346.4" y="644.4" font-family="'Liberation Serif','Times New Roman',serif" font-weight="bold" font-size="22">f)</text>
<clipPath id="fs0"><rect x="374.2" y="635.8" width="21.1" height="42.8"/></clipPath>
<g clip-path="url(#fs0)">
<rect x="374.2" y="635.8" width="21.1" height="42.8" fill="#17191c"/>
<line x1="374.2" y1="650.5" x2="395.3" y2="650.8" stroke="#5e686d" stroke-width="1"/>
<line x1="374.2" y1="654.5" x2="395.3" y2="654.8" stroke="#5e686d" stroke-width="1"/>
<line x1="374.2" y1="659.5" x2="395.3" y2="659.8" stroke="#5e686d" stroke-width="1"/>
<line x1="383.7" y1="635.8" x2="383.7" y2="678.6" stroke="#8d999e" stroke-width="0.7"/>
<rect x="374.7" y="635.8" width="17.3" height="11.2" fill="url(#fclamp)"/>
<rect x="391.9" y="637.3" width="3.2" height="8.4" rx="2" fill="#b0aeaa"/>
<line x1="383.7" y1="635.8" x2="383.7" y2="647.0" stroke="#2a3036" stroke-width="1"/>
<line x1="387.9" y1="635.8" x2="387.9" y2="647.0" stroke="#2a3036" stroke-width="0.8"/>
<rect x="375.0" y="663.7" width="17.3" height="14.9" rx="2" fill="url(#fclamp2)"/>
<ellipse cx="382.6" cy="665.7" rx="6.3" ry="2" fill="#b89878"/>
<rect x="391.9" y="665.9" width="3.2" height="10.4" rx="2" fill="#a4a29e"/>
<line x1="383.7" y1="663.7" x2="383.7" y2="678.6" stroke="#3a3a3c" stroke-width="1"/>
<line x1="387.9" y1="665.7" x2="387.9" y2="678.6" stroke="#555" stroke-width="0.8"/>
</g>
<text x="384.8" y="693.3" text-anchor="middle" font-family="'Liberation Serif','Times New Roman',serif" font-weight="bold" font-size="14">λ=0</text>
<clipPath id="fs1"><rect x="398.1" y="635.8" width="24.2" height="65.2"/></clipPath>
<g clip-path="url(#fs1)">
<rect x="398.1" y="635.8" width="24.2" height="65.2" fill="#17191c"/>
<line x1="398.1" y1="655.5" x2="422.3" y2="655.8" stroke="#5e686d" stroke-width="1"/>
<line x1="398.1" y1="660.5" x2="422.3" y2="660.8" stroke="#5e686d" stroke-width="1"/>
<line x1="398.1" y1="664.5" x2="422.3" y2="664.8" stroke="#5e686d" stroke-width="1"/>
<line x1="398.1" y1="669.5" x2="422.3" y2="669.8" stroke="#5e686d" stroke-width="1"/>
<line x1="398.1" y1="674.5" x2="422.3" y2="674.8" stroke="#5e686d" stroke-width="1"/>
<line x1="409.0" y1="635.8" x2="409.0" y2="701.0" stroke="#8d999e" stroke-width="0.7"/>
<rect x="398.6" y="635.8" width="19.8" height="16.8" fill="url(#fclamp)"/>
<rect x="418.4" y="637.3" width="3.6" height="12.6" rx="2" fill="#b0aeaa"/>
<line x1="409.0" y1="635.8" x2="409.0" y2="652.6" stroke="#2a3036" stroke-width="1"/>
<line x1="413.8" y1="635.8" x2="413.8" y2="652.6" stroke="#2a3036" stroke-width="0.8"/>
<rect x="398.9" y="678.6" width="19.8" height="22.4" rx="2" fill="url(#fclamp2)"/>
<ellipse cx="407.8" cy="680.6" rx="7.3" ry="2" fill="#b89878"/>
<rect x="418.4" y="682.0" width="3.6" height="15.7" rx="2" fill="#a4a29e"/>
<line x1="409.0" y1="678.6" x2="409.0" y2="701.0" stroke="#3a3a3c" stroke-width="1"/>
<line x1="413.8" y1="680.6" x2="413.8" y2="701.0" stroke="#555" stroke-width="0.8"/>
</g>
<text x="410.2" y="718.5" text-anchor="middle" font-family="'Liberation Serif','Times New Roman',serif" font-weight="bold" font-size="14">λ=1</text>
<clipPath id="fs2"><rect x="425.6" y="635.8" width="24.4" height="85.8"/></clipPath>
<g clip-path="url(#fs2)">
<rect x="425.6" y="635.8" width="24.4" height="85.8" fill="#17191c"/>
<line x1="425.6" y1="656.5" x2="450.0" y2="656.8" stroke="#9aa4a7" stroke-width="1"/>
<line x1="425.6" y1="661.5" x2="450.0" y2="661.8" stroke="#9aa4a7" stroke-width="1"/>
<line x1="425.6" y1="665.5" x2="450.0" y2="665.8" stroke="#9aa4a7" stroke-width="1"/>
<line x1="425.6" y1="670.5" x2="450.0" y2="670.8" stroke="#9aa4a7" stroke-width="1"/>
<line x1="425.6" y1="674.5" x2="450.0" y2="674.8" stroke="#9aa4a7" stroke-width="1"/>
<line x1="425.6" y1="679.5" x2="450.0" y2="679.8" stroke="#9aa4a7" stroke-width="1"/>
<line x1="425.6" y1="684.5" x2="450.0" y2="684.8" stroke="#9aa4a7" stroke-width="1"/>
<line x1="425.6" y1="688.5" x2="450.0" y2="688.8" stroke="#9aa4a7" stroke-width="1"/>
<line x1="425.6" y1="693.5" x2="450.0" y2="693.8" stroke="#9aa4a7" stroke-width="1"/>
<line x1="436.6" y1="635.8" x2="436.6" y2="721.6" stroke="#8d999e" stroke-width="0.7"/>
<rect x="426.1" y="635.8" width="20.0" height="17.6" fill="url(#fclamp)"/>
<rect x="446.1" y="637.3" width="3.7" height="13.2" rx="2" fill="#b0aeaa"/>
<line x1="436.6" y1="635.8" x2="436.6" y2="653.4" stroke="#2a3036" stroke-width="1"/>
<line x1="441.5" y1="635.8" x2="441.5" y2="653.4" stroke="#2a3036" stroke-width="0.8"/>
<rect x="426.4" y="697.1" width="20.0" height="24.5" rx="2" fill="url(#fclamp2)"/>
<ellipse cx="435.4" cy="699.1" rx="7.3" ry="2" fill="#b89878"/>
<rect x="446.1" y="700.8" width="3.7" height="17.1" rx="2" fill="#a4a29e"/>
<line x1="436.6" y1="697.1" x2="436.6" y2="721.6" stroke="#3a3a3c" stroke-width="1"/>
<line x1="441.5" y1="699.1" x2="441.5" y2="721.6" stroke="#555" stroke-width="0.8"/>
</g>
<text x="437.8" y="739.6" text-anchor="middle" font-family="'Liberation Serif','Times New Roman',serif" font-weight="bold" font-size="14">λ=2</text>
<clipPath id="fs3"><rect x="453.7" y="635.8" width="24.4" height="107.6"/></clipPath>
<g clip-path="url(#fs3)">
<rect x="453.7" y="635.8" width="24.4" height="107.6" fill="#17191c"/>
<line x1="453.7" y1="654.5" x2="478.1" y2="654.8" stroke="#9aa4a7" stroke-width="1"/>
<line x1="453.7" y1="660.5" x2="478.1" y2="660.8" stroke="#9aa4a7" stroke-width="1"/>
<line x1="453.7" y1="665.5" x2="478.1" y2="665.8" stroke="#9aa4a7" stroke-width="1"/>
<line x1="453.7" y1="671.5" x2="478.1" y2="671.8" stroke="#9aa4a7" stroke-width="1"/>
<line x1="453.7" y1="676.5" x2="478.1" y2="676.8" stroke="#9aa4a7" stroke-width="1"/>
<line x1="453.7" y1="681.5" x2="478.1" y2="681.8" stroke="#9aa4a7" stroke-width="1"/>
<line x1="453.7" y1="686.5" x2="478.1" y2="686.8" stroke="#9aa4a7" stroke-width="1"/>
<line x1="453.7" y1="690.5" x2="478.1" y2="690.8" stroke="#9aa4a7" stroke-width="1"/>
<line x1="453.7" y1="694.5" x2="478.1" y2="694.8" stroke="#9aa4a7" stroke-width="1"/>
<line x1="453.7" y1="699.5" x2="478.1" y2="699.8" stroke="#9aa4a7" stroke-width="1"/>
<line x1="453.7" y1="703.5" x2="478.1" y2="703.8" stroke="#9aa4a7" stroke-width="1"/>
<line x1="453.7" y1="707.5" x2="478.1" y2="707.8" stroke="#9aa4a7" stroke-width="1"/>
<line x1="453.7" y1="710.5" x2="478.1" y2="710.8" stroke="#9aa4a7" stroke-width="1"/>
<line x1="453.7" y1="714.5" x2="478.1" y2="714.8" stroke="#9aa4a7" stroke-width="1"/>
<line x1="453.7" y1="717.5" x2="478.1" y2="717.8" stroke="#9aa4a7" stroke-width="1"/>
<line x1="464.7" y1="635.8" x2="464.7" y2="743.4" stroke="#8d999e" stroke-width="0.7"/>
<rect x="454.2" y="635.8" width="20.0" height="15.7" fill="url(#fclamp)"/>
<rect x="474.2" y="637.3" width="3.7" height="11.8" rx="2" fill="#b0aeaa"/>
<line x1="464.7" y1="635.8" x2="464.7" y2="651.5" stroke="#2a3036" stroke-width="1"/>
<line x1="469.6" y1="635.8" x2="469.6" y2="651.5" stroke="#2a3036" stroke-width="0.8"/>
<rect x="454.5" y="720.3" width="20.0" height="23.1" rx="2" fill="url(#fclamp2)"/>
<ellipse cx="463.5" cy="722.3" rx="7.3" ry="2" fill="#b89878"/>
<rect x="474.2" y="723.8" width="3.7" height="16.2" rx="2" fill="#a4a29e"/>
<line x1="464.7" y1="720.3" x2="464.7" y2="743.4" stroke="#3a3a3c" stroke-width="1"/>
<line x1="469.6" y1="722.3" x2="469.6" y2="743.4" stroke="#555" stroke-width="0.8"/>
</g>
<text x="465.9" y="760.1" text-anchor="middle" font-family="'Liberation Serif','Times New Roman',serif" font-weight="bold" font-size="14">λ=3</text>
<clipPath id="fs4"><rect x="481.9" y="635.8" width="27.0" height="129.0"/></clipPath>
<g clip-path="url(#fs4)">
<rect x="481.9" y="635.8" width="27.0" height="129.0" fill="#17191c"/>
<line x1="481.9" y1="656.5" x2="508.9" y2="656.8" stroke="#9aa4a7" stroke-width="1"/>
<line x1="481.9" y1="662.5" x2="508.9" y2="662.8" stroke="#9aa4a7" stroke-width="1"/>
<line x1="481.9" y1="667.5" x2="508.9" y2="667.8" stroke="#9aa4a7" stroke-width="1"/>
<line x1="481.9" y1="673.5" x2="508.9" y2="673.8" stroke="#9aa4a7" stroke-width="1"/>
<line x1="481.9" y1="678.5" x2="508.9" y2="678.8" stroke="#9aa4a7" stroke-width="1"/>
<line x1="481.9" y1="683.5" x2="508.9" y2="683.8" stroke="#9aa4a7" stroke-width="1"/>
<line x1="481.9" y1="688.5" x2="508.9" y2="688.8" stroke="#9aa4a7" stroke-width="1"/>
<line x1="481.9" y1="693.5" x2="508.9" y2="693.8" stroke="#9aa4a7" stroke-width="1"/>
<line x1="481.9" y1="698.5" x2="508.9" y2="698.8" stroke="#9aa4a7" stroke-width="1"/>
<line x1="481.9" y1="702.5" x2="508.9" y2="702.8" stroke="#9aa4a7" stroke-width="1"/>
<line x1="481.9" y1="707.5" x2="508.9" y2="707.8" stroke="#9aa4a7" stroke-width="1"/>
<line x1="481.9" y1="711.5" x2="508.9" y2="711.8" stroke="#9aa4a7" stroke-width="1"/>
<line x1="481.9" y1="715.5" x2="508.9" y2="715.8" stroke="#9aa4a7" stroke-width="1"/>
<line x1="481.9" y1="719.5" x2="508.9" y2="719.8" stroke="#9aa4a7" stroke-width="1"/>
<line x1="481.9" y1="723.5" x2="508.9" y2="723.8" stroke="#9aa4a7" stroke-width="1"/>
<line x1="481.9" y1="727.5" x2="508.9" y2="727.8" stroke="#9aa4a7" stroke-width="1"/>
<line x1="481.9" y1="730.5" x2="508.9" y2="730.8" stroke="#9aa4a7" stroke-width="1"/>
<line x1="481.9" y1="734.5" x2="508.9" y2="734.8" stroke="#9aa4a7" stroke-width="1"/>
<line x1="481.9" y1="737.5" x2="508.9" y2="737.8" stroke="#9aa4a7" stroke-width="1"/>
<line x1="494.0" y1="635.8" x2="494.0" y2="764.8" stroke="#8d999e" stroke-width="0.7"/>
<rect x="482.4" y="635.8" width="22.1" height="14.7" fill="url(#fclamp)"/>
<path d="M482.9 650.5 L504.0 650.5 L498.1 654.5 L488.6 654.5 Z" fill="#5e4f45"/>
<rect x="504.6" y="637.3" width="4.0" height="11.0" rx="2" fill="#b0aeaa"/>
<line x1="494.0" y1="635.8" x2="494.0" y2="650.5" stroke="#2a3036" stroke-width="1"/>
<line x1="499.4" y1="635.8" x2="499.4" y2="650.5" stroke="#2a3036" stroke-width="0.8"/>
<rect x="482.7" y="740.9" width="22.1" height="23.9" rx="2" fill="url(#fclamp2)"/>
<ellipse cx="492.7" cy="742.9" rx="8.1" ry="2" fill="#b89878"/>
<rect x="504.6" y="744.5" width="4.0" height="16.7" rx="2" fill="#a4a29e"/>
<line x1="494.0" y1="740.9" x2="494.0" y2="764.8" stroke="#3a3a3c" stroke-width="1"/>
<line x1="499.4" y1="742.9" x2="499.4" y2="764.8" stroke="#555" stroke-width="0.8"/>
</g>
<text x="495.4" y="780.5" text-anchor="middle" font-family="'Liberation Serif','Times New Roman',serif" font-weight="bold" font-size="14">λ=4</text>
<clipPath id="fs5"><rect x="512.3" y="635.8" width="26.7" height="149.9"/></clipPath>
<g clip-path="url(#fs5)">
<rect x="512.3" y="635.8" width="26.7" height="149.9" fill="#17191c"/>
<rect x="512.3" y="654.0" width="26.7" height="3.6" fill="url(#fband)"/>
<line x1="512.3" y1="659.5" x2="539.0" y2="659.8" stroke="#9aa4a7" stroke-width="1"/>
<line x1="512.3" y1="665.5" x2="539.0" y2="665.8" stroke="#9aa4a7" stroke-width="1"/>
<line x1="512.3" y1="671.5" x2="539.0" y2="671.8" stroke="#9aa4a7" stroke-width="1"/>
<line x1="512.3" y1="676.5" x2="539.0" y2="676.8" stroke="#9aa4a7" stroke-width="1"/>
<line x1="512.3" y1="681.5" x2="539.0" y2="681.8" stroke="#9aa4a7" stroke-width="1"/>
<line x1="512.3" y1="687.5" x2="539.0" y2="687.8" stroke="#9aa4a7" stroke-width="1"/>
<line x1="512.3" y1="692.5" x2="539.0" y2="692.8" stroke="#9aa4a7" stroke-width="1"/>
<line x1="512.3" y1="697.5" x2="539.0" y2="697.8" stroke="#9aa4a7" stroke-width="1"/>
<line x1="512.3" y1="702.5" x2="539.0" y2="702.8" stroke="#9aa4a7" stroke-width="1"/>
<line x1="512.3" y1="706.5" x2="539.0" y2="706.8" stroke="#9aa4a7" stroke-width="1"/>
<line x1="512.3" y1="711.5" x2="539.0" y2="711.8" stroke="#9aa4a7" stroke-width="1"/>
<line x1="512.3" y1="715.5" x2="539.0" y2="715.8" stroke="#9aa4a7" stroke-width="1"/>
<line x1="512.3" y1="720.5" x2="539.0" y2="720.8" stroke="#9aa4a7" stroke-width="1"/>
<line x1="512.3" y1="724.5" x2="539.0" y2="724.8" stroke="#9aa4a7" stroke-width="1"/>
<line x1="512.3" y1="728.5" x2="539.0" y2="728.8" stroke="#9aa4a7" stroke-width="1"/>
<line x1="512.3" y1="732.5" x2="539.0" y2="732.8" stroke="#9aa4a7" stroke-width="1"/>
<line x1="512.3" y1="736.5" x2="539.0" y2="736.8" stroke="#9aa4a7" stroke-width="1"/>
<line x1="512.3" y1="740.5" x2="539.0" y2="740.8" stroke="#9aa4a7" stroke-width="1"/>
<line x1="512.3" y1="744.5" x2="539.0" y2="744.8" stroke="#9aa4a7" stroke-width="1"/>
<line x1="512.3" y1="747.5" x2="539.0" y2="747.8" stroke="#9aa4a7" stroke-width="1"/>
<line x1="512.3" y1="751.5" x2="539.0" y2="751.8" stroke="#9aa4a7" stroke-width="1"/>
<line x1="512.3" y1="754.5" x2="539.0" y2="754.8" stroke="#9aa4a7" stroke-width="1"/>
<line x1="512.3" y1="757.5" x2="539.0" y2="757.8" stroke="#9aa4a7" stroke-width="1"/>
<line x1="524.3" y1="635.8" x2="524.3" y2="785.7" stroke="#8d999e" stroke-width="0.7"/>
<rect x="512.8" y="635.8" width="21.9" height="16.2" fill="url(#fclamp)"/>
<path d="M513.3 652.0 L534.2 652.0 L528.3 656.0 L519.0 656.0 Z" fill="#5e4f45"/>
<rect x="534.7" y="637.3" width="4.0" height="12.2" rx="2" fill="#b0aeaa"/>
<line x1="524.3" y1="635.8" x2="524.3" y2="652.0" stroke="#2a3036" stroke-width="1"/>
<line x1="529.7" y1="635.8" x2="529.7" y2="652.0" stroke="#2a3036" stroke-width="0.8"/>
<rect x="513.1" y="760.6" width="21.9" height="25.1" rx="2" fill="url(#fclamp2)"/>
<ellipse cx="523.0" cy="762.6" rx="8.0" ry="2" fill="#b89878"/>
<rect x="534.7" y="764.4" width="4.0" height="17.6" rx="2" fill="#a4a29e"/>
<line x1="524.3" y1="760.6" x2="524.3" y2="785.7" stroke="#3a3a3c" stroke-width="1"/>
<line x1="529.7" y1="762.6" x2="529.7" y2="785.7" stroke="#555" stroke-width="0.8"/>
</g>
<text x="525.6" y="801.4" text-anchor="middle" font-family="'Liberation Serif','Times New Roman',serif" font-weight="bold" font-size="14">λ=5</text>
<clipPath id="fs6"><rect x="542.6" y="635.8" width="26.5" height="171.9"/></clipPath>
<g clip-path="url(#fs6)">
<rect x="542.6" y="635.8" width="26.5" height="171.9" fill="#17191c"/>
<rect x="542.6" y="654.0" width="26.5" height="5.2" fill="url(#fband)"/>
<line x1="542.6" y1="661.5" x2="569.1" y2="661.8" stroke="#9aa4a7" stroke-width="1"/>
<line x1="542.6" y1="667.5" x2="569.1" y2="667.8" stroke="#9aa4a7" stroke-width="1"/>
<line x1="542.6" y1="672.5" x2="569.1" y2="672.8" stroke="#9aa4a7" stroke-width="1"/>
<line x1="542.6" y1="678.5" x2="569.1" y2="678.8" stroke="#9aa4a7" stroke-width="1"/>
<line x1="542.6" y1="683.5" x2="569.1" y2="683.8" stroke="#9aa4a7" stroke-width="1"/>
<line x1="542.6" y1="689.5" x2="569.1" y2="689.8" stroke="#9aa4a7" stroke-width="1"/>
<line x1="542.6" y1="694.5" x2="569.1" y2="694.8" stroke="#9aa4a7" stroke-width="1"/>
<line x1="542.6" y1="699.5" x2="569.1" y2="699.8" stroke="#9aa4a7" stroke-width="1"/>
<line x1="542.6" y1="704.5" x2="569.1" y2="704.8" stroke="#9aa4a7" stroke-width="1"/>
<line x1="542.6" y1="709.5" x2="569.1" y2="709.8" stroke="#9aa4a7" stroke-width="1"/>
<line x1="542.6" y1="713.5" x2="569.1" y2="713.8" stroke="#9aa4a7" stroke-width="1"/>
<line x1="542.6" y1="718.5" x2="569.1" y2="718.8" stroke="#9aa4a7" stroke-width="1"/>
<line x1="542.6" y1="723.5" x2="569.1" y2="723.8" stroke="#9aa4a7" stroke-width="1"/>
<line x1="542.6" y1="727.5" x2="569.1" y2="727.8" stroke="#9aa4a7" stroke-width="1"/>
<line x1="542.6" y1="732.5" x2="569.1" y2="732.8" stroke="#9aa4a7" stroke-width="1"/>
<line x1="542.6" y1="736.5" x2="569.1" y2="736.8" stroke="#9aa4a7" stroke-width="1"/>
<line x1="542.6" y1="740.5" x2="569.1" y2="740.8" stroke="#9aa4a7" stroke-width="1"/>
<line x1="542.6" y1="744.5" x2="569.1" y2="744.8" stroke="#9aa4a7" stroke-width="1"/>
<line x1="542.6" y1="748.5" x2="569.1" y2="748.8" stroke="#9aa4a7" stroke-width="1"/>
<line x1="542.6" y1="752.5" x2="569.1" y2="752.8" stroke="#9aa4a7" stroke-width="1"/>
<line x1="542.6" y1="756.5" x2="569.1" y2="756.8" stroke="#9aa4a7" stroke-width="1"/>
<line x1="542.6" y1="760.5" x2="569.1" y2="760.8" stroke="#9aa4a7" stroke-width="1"/>
<line x1="542.6" y1="764.5" x2="569.1" y2="764.8" stroke="#9aa4a7" stroke-width="1"/>
<line x1="542.6" y1="767.5" x2="569.1" y2="767.8" stroke="#9aa4a7" stroke-width="1"/>
<line x1="542.6" y1="771.5" x2="569.1" y2="771.8" stroke="#9aa4a7" stroke-width="1"/>
<line x1="542.6" y1="774.5" x2="569.1" y2="774.8" stroke="#9aa4a7" stroke-width="1"/>
<line x1="542.6" y1="778.5" x2="569.1" y2="778.8" stroke="#9aa4a7" stroke-width="1"/>
<line x1="542.6" y1="781.5" x2="569.1" y2="781.8" stroke="#9aa4a7" stroke-width="1"/>
<line x1="554.5" y1="635.8" x2="554.5" y2="807.7" stroke="#8d999e" stroke-width="0.7"/>
<rect x="543.1" y="635.8" width="21.7" height="16.2" fill="url(#fclamp)"/>
<path d="M543.6 652.0 L564.3 652.0 L558.5 656.0 L549.2 656.0 Z" fill="#5e4f45"/>
<rect x="564.9" y="637.3" width="4.0" height="12.2" rx="2" fill="#b0aeaa"/>
<line x1="554.5" y1="635.8" x2="554.5" y2="652.0" stroke="#2a3036" stroke-width="1"/>
<line x1="559.8" y1="635.8" x2="559.8" y2="652.0" stroke="#2a3036" stroke-width="0.8"/>
<rect x="543.4" y="784.3" width="21.7" height="23.4" rx="2" fill="url(#fclamp2)"/>
<ellipse cx="553.2" cy="786.3" rx="7.9" ry="2" fill="#b89878"/>
<rect x="564.9" y="787.8" width="4.0" height="16.4" rx="2" fill="#a4a29e"/>
<line x1="554.5" y1="784.3" x2="554.5" y2="807.7" stroke="#3a3a3c" stroke-width="1"/>
<line x1="559.8" y1="786.3" x2="559.8" y2="807.7" stroke="#555" stroke-width="0.8"/>
</g>
<text x="555.9" y="821.4" text-anchor="middle" font-family="'Liberation Serif','Times New Roman',serif" font-weight="bold" font-size="14">λ=6</text>
<clipPath id="fs7"><rect x="574.0" y="635.8" width="26.5" height="191.3"/></clipPath>
<g clip-path="url(#fs7)">
<rect x="574.0" y="635.8" width="26.5" height="191.3" fill="#17191c"/>
<rect x="574.0" y="655.0" width="26.5" height="6.8" fill="url(#fband)"/>
<line x1="574.0" y1="663.5" x2="600.5" y2="663.8" stroke="#9aa4a7" stroke-width="1"/>
<line x1="574.0" y1="669.5" x2="600.5" y2="669.8" stroke="#9aa4a7" stroke-width="1"/>
<line x1="574.0" y1="675.5" x2="600.5" y2="675.8" stroke="#9aa4a7" stroke-width="1"/>
<line x1="574.0" y1="680.5" x2="600.5" y2="680.8" stroke="#9aa4a7" stroke-width="1"/>
<line x1="574.0" y1="686.5" x2="600.5" y2="686.8" stroke="#9aa4a7" stroke-width="1"/>
<line x1="574.0" y1="691.5" x2="600.5" y2="691.8" stroke="#9aa4a7" stroke-width="1"/>
<line x1="574.0" y1="696.5" x2="600.5" y2="696.8" stroke="#9aa4a7" stroke-width="1"/>
<line x1="574.0" y1="702.5" x2="600.5" y2="702.8" stroke="#9aa4a7" stroke-width="1"/>
<line x1="574.0" y1="707.5" x2="600.5" y2="707.8" stroke="#9aa4a7" stroke-width="1"/>
<line x1="574.0" y1="712.5" x2="600.5" y2="712.8" stroke="#9aa4a7" stroke-width="1"/>
<line x1="574.0" y1="717.5" x2="600.5" y2="717.8" stroke="#9aa4a7" stroke-width="1"/>
<line x1="574.0" y1="721.5" x2="600.5" y2="721.8" stroke="#9aa4a7" stroke-width="1"/>
<line x1="574.0" y1="726.5" x2="600.5" y2="726.8" stroke="#9aa4a7" stroke-width="1"/>
<line x1="574.0" y1="731.5" x2="600.5" y2="731.8" stroke="#9aa4a7" stroke-width="1"/>
<line x1="574.0" y1="735.5" x2="600.5" y2="735.8" stroke="#9aa4a7" stroke-width="1"/>
<line x1="574.0" y1="740.5" x2="600.5" y2="740.8" stroke="#9aa4a7" stroke-width="1"/>
<line x1="574.0" y1="744.5" x2="600.5" y2="744.8" stroke="#9aa4a7" stroke-width="1"/>
<line x1="574.0" y1="748.5" x2="600.5" y2="748.8" stroke="#9aa4a7" stroke-width="1"/>
<line x1="574.0" y1="753.5" x2="600.5" y2="753.8" stroke="#9aa4a7" stroke-width="1"/>
<line x1="574.0" y1="757.5" x2="600.5" y2="757.8" stroke="#9aa4a7" stroke-width="1"/>
<line x1="574.0" y1="761.5" x2="600.5" y2="761.8" stroke="#9aa4a7" stroke-width="1"/>
<line x1="574.0" y1="765.5" x2="600.5" y2="765.8" stroke="#9aa4a7" stroke-width="1"/>
<line x1="574.0" y1="769.5" x2="600.5" y2="769.8" stroke="#9aa4a7" stroke-width="1"/>
<line x1="574.0" y1="772.5" x2="600.5" y2="772.8" stroke="#9aa4a7" stroke-width="1"/>
<line x1="574.0" y1="776.5" x2="600.5" y2="776.8" stroke="#9aa4a7" stroke-width="1"/>
<line x1="574.0" y1="780.5" x2="600.5" y2="780.8" stroke="#9aa4a7" stroke-width="1"/>
<line x1="574.0" y1="783.5" x2="600.5" y2="783.8" stroke="#9aa4a7" stroke-width="1"/>
<line x1="574.0" y1="787.5" x2="600.5" y2="787.8" stroke="#9aa4a7" stroke-width="1"/>
<line x1="574.0" y1="790.5" x2="600.5" y2="790.8" stroke="#9aa4a7" stroke-width="1"/>
<line x1="574.0" y1="794.5" x2="600.5" y2="794.8" stroke="#9aa4a7" stroke-width="1"/>
<line x1="574.0" y1="797.5" x2="600.5" y2="797.8" stroke="#9aa4a7" stroke-width="1"/>
<line x1="585.9" y1="635.8" x2="585.9" y2="827.1" stroke="#8d999e" stroke-width="0.7"/>
<rect x="574.5" y="635.8" width="21.7" height="17.2" fill="url(#fclamp)"/>
<path d="M575.0 653.0 L595.7 653.0 L589.9 657.0 L580.6 657.0 Z" fill="#5e4f45"/>
<rect x="596.3" y="637.3" width="4.0" height="12.9" rx="2" fill="#b0aeaa"/>
<line x1="585.9" y1="635.8" x2="585.9" y2="653.0" stroke="#2a3036" stroke-width="1"/>
<line x1="591.2" y1="635.8" x2="591.2" y2="653.0" stroke="#2a3036" stroke-width="0.8"/>
<rect x="574.8" y="801.4" width="21.7" height="25.7" rx="2" fill="url(#fclamp2)"/>
<ellipse cx="584.6" cy="803.4" rx="7.9" ry="2" fill="#b89878"/>
<rect x="596.3" y="805.3" width="4.0" height="18.0" rx="2" fill="#a4a29e"/>
<line x1="585.9" y1="801.4" x2="585.9" y2="827.1" stroke="#3a3a3c" stroke-width="1"/>
<line x1="591.2" y1="803.4" x2="591.2" y2="827.1" stroke="#555" stroke-width="0.8"/>
</g>
<text x="587.2" y="842.9" text-anchor="middle" font-family="'Liberation Serif','Times New Roman',serif" font-weight="bold" font-size="14">λ=7</text>
<clipPath id="fs8"><rect x="605.6" y="635.8" width="26.8" height="207.1"/></clipPath>
<g clip-path="url(#fs8)">
<rect x="605.6" y="635.8" width="26.8" height="207.1" fill="#17191c"/>
<rect x="605.6" y="657.0" width="26.8" height="8.4" fill="url(#fband)"/>
<line x1="605.6" y1="667.5" x2="632.4" y2="667.8" stroke="#9aa4a7" stroke-width="1"/>
<line x1="605.6" y1="673.5" x2="632.4" y2="673.8" stroke="#9aa4a7" stroke-width="1"/>
<line x1="605.6" y1="678.5" x2="632.4" y2="678.8" stroke="#9aa4a7" stroke-width="1"/>
<line x1="605.6" y1="684.5" x2="632.4" y2="684.8" stroke="#9aa4a7" stroke-width="1"/>
<line x1="605.6" y1="690.5" x2="632.4" y2="690.8" stroke="#9aa4a7" stroke-width="1"/>
<line x1="605.6" y1="695.5" x2="632.4" y2="695.8" stroke="#9aa4a7" stroke-width="1"/>
<line x1="605.6" y1="700.5" x2="632.4" y2="700.8" stroke="#9aa4a7" stroke-width="1"/>
<line x1="605.6" y1="705.5" x2="632.4" y2="705.8" stroke="#9aa4a7" stroke-width="1"/>
<line x1="605.6" y1="711.5" x2="632.4" y2="711.8" stroke="#9aa4a7" stroke-width="1"/>
<line x1="605.6" y1="716.5" x2="632.4" y2="716.8" stroke="#9aa4a7" stroke-width="1"/>
<line x1="605.6" y1="721.5" x2="632.4" y2="721.8" stroke="#9aa4a7" stroke-width="1"/>
<line x1="605.6" y1="725.5" x2="632.4" y2="725.8" stroke="#9aa4a7" stroke-width="1"/>
<line x1="605.6" y1="730.5" x2="632.4" y2="730.8" stroke="#9aa4a7" stroke-width="1"/>
<line x1="605.6" y1="735.5" x2="632.4" y2="735.8" stroke="#9aa4a7" stroke-width="1"/>
<line x1="605.6" y1="740.5" x2="632.4" y2="740.8" stroke="#9aa4a7" stroke-width="1"/>
<line x1="605.6" y1="744.5" x2="632.4" y2="744.8" stroke="#9aa4a7" stroke-width="1"/>
<line x1="605.6" y1="749.5" x2="632.4" y2="749.8" stroke="#9aa4a7" stroke-width="1"/>
<line x1="605.6" y1="753.5" x2="632.4" y2="753.8" stroke="#9aa4a7" stroke-width="1"/>
<line x1="605.6" y1="757.5" x2="632.4" y2="757.8" stroke="#9aa4a7" stroke-width="1"/>
<line x1="605.6" y1="762.5" x2="632.4" y2="762.8" stroke="#9aa4a7" stroke-width="1"/>
<line x1="605.6" y1="766.5" x2="632.4" y2="766.8" stroke="#9aa4a7" stroke-width="1"/>
<line x1="605.6" y1="770.5" x2="632.4" y2="770.8" stroke="#9aa4a7" stroke-width="1"/>
<line x1="605.6" y1="774.5" x2="632.4" y2="774.8" stroke="#9aa4a7" stroke-width="1"/>
<line x1="605.6" y1="778.5" x2="632.4" y2="778.8" stroke="#9aa4a7" stroke-width="1"/>
<line x1="605.6" y1="782.5" x2="632.4" y2="782.8" stroke="#9aa4a7" stroke-width="1"/>
<line x1="605.6" y1="786.5" x2="632.4" y2="786.8" stroke="#9aa4a7" stroke-width="1"/>
<line x1="605.6" y1="789.5" x2="632.4" y2="789.8" stroke="#9aa4a7" stroke-width="1"/>
<line x1="605.6" y1="793.5" x2="632.4" y2="793.8" stroke="#9aa4a7" stroke-width="1"/>
<line x1="605.6" y1="797.5" x2="632.4" y2="797.8" stroke="#9aa4a7" stroke-width="1"/>
<line x1="605.6" y1="800.5" x2="632.4" y2="800.8" stroke="#9aa4a7" stroke-width="1"/>
<line x1="605.6" y1="804.5" x2="632.4" y2="804.8" stroke="#9aa4a7" stroke-width="1"/>
<line x1="605.6" y1="807.5" x2="632.4" y2="807.8" stroke="#9aa4a7" stroke-width="1"/>
<line x1="605.6" y1="811.5" x2="632.4" y2="811.8" stroke="#9aa4a7" stroke-width="1"/>
<line x1="605.6" y1="814.5" x2="632.4" y2="814.8" stroke="#9aa4a7" stroke-width="1"/>
<line x1="617.7" y1="635.8" x2="617.7" y2="842.9" stroke="#8d999e" stroke-width="0.7"/>
<rect x="606.1" y="635.8" width="22.0" height="19.2" fill="url(#fclamp)"/>
<path d="M606.6 655.0 L627.6 655.0 L621.7 659.0 L612.3 659.0 Z" fill="#5e4f45"/>
<rect x="628.1" y="637.3" width="4.0" height="14.4" rx="2" fill="#b0aeaa"/>
<line x1="617.7" y1="635.8" x2="617.7" y2="655.0" stroke="#2a3036" stroke-width="1"/>
<line x1="623.0" y1="635.8" x2="623.0" y2="655.0" stroke="#2a3036" stroke-width="0.8"/>
<rect x="606.4" y="818.6" width="22.0" height="24.3" rx="2" fill="url(#fclamp2)"/>
<ellipse cx="616.3" cy="820.6" rx="8.0" ry="2" fill="#b89878"/>
<rect x="628.1" y="822.2" width="4.0" height="17.0" rx="2" fill="#a4a29e"/>
<line x1="617.7" y1="818.6" x2="617.7" y2="842.9" stroke="#3a3a3c" stroke-width="1"/>
<line x1="623.0" y1="820.6" x2="623.0" y2="842.9" stroke="#555" stroke-width="0.8"/>
</g>
<text x="619.0" y="858.6" text-anchor="middle" font-family="'Liberation Serif','Times New Roman',serif" font-weight="bold" font-size="14">λ=8</text>
<clipPath id="fs9"><rect x="636.3" y="635.8" width="26.6" height="223.6"/></clipPath>
<g clip-path="url(#fs9)">
<rect x="636.3" y="635.8" width="26.6" height="223.6" fill="#17191c"/>
<rect x="636.3" y="659.0" width="26.6" height="10.0" fill="url(#fband)"/>
<line x1="636.3" y1="671.5" x2="662.9" y2="671.8" stroke="#9aa4a7" stroke-width="1"/>
<line x1="636.3" y1="676.5" x2="662.9" y2="676.8" stroke="#9aa4a7" stroke-width="1"/>
<line x1="636.3" y1="682.5" x2="662.9" y2="682.8" stroke="#9aa4a7" stroke-width="1"/>
<line x1="636.3" y1="688.5" x2="662.9" y2="688.8" stroke="#9aa4a7" stroke-width="1"/>
<line x1="636.3" y1="693.5" x2="662.9" y2="693.8" stroke="#9aa4a7" stroke-width="1"/>
<line x1="636.3" y1="699.5" x2="662.9" y2="699.8" stroke="#9aa4a7" stroke-width="1"/>
<line x1="636.3" y1="704.5" x2="662.9" y2="704.8" stroke="#9aa4a7" stroke-width="1"/>
<line x1="636.3" y1="709.5" x2="662.9" y2="709.8" stroke="#9aa4a7" stroke-width="1"/>
<line x1="636.3" y1="714.5" x2="662.9" y2="714.8" stroke="#9aa4a7" stroke-width="1"/>
<line x1="636.3" y1="719.5" x2="662.9" y2="719.8" stroke="#9aa4a7" stroke-width="1"/>
<line x1="636.3" y1="724.5" x2="662.9" y2="724.8" stroke="#9aa4a7" stroke-width="1"/>
<line x1="636.3" y1="729.5" x2="662.9" y2="729.8" stroke="#9aa4a7" stroke-width="1"/>
<line x1="636.3" y1="734.5" x2="662.9" y2="734.8" stroke="#9aa4a7" stroke-width="1"/>
<line x1="636.3" y1="739.5" x2="662.9" y2="739.8" stroke="#9aa4a7" stroke-width="1"/>
<line x1="636.3" y1="744.5" x2="662.9" y2="744.8" stroke="#9aa4a7" stroke-width="1"/>
<line x1="636.3" y1="748.5" x2="662.9" y2="748.8" stroke="#9aa4a7" stroke-width="1"/>
<line x1="636.3" y1="753.5" x2="662.9" y2="753.8" stroke="#9aa4a7" stroke-width="1"/>
<line x1="636.3" y1="757.5" x2="662.9" y2="757.8" stroke="#9aa4a7" stroke-width="1"/>
<line x1="636.3" y1="762.5" x2="662.9" y2="762.8" stroke="#9aa4a7" stroke-width="1"/>
<line x1="636.3" y1="766.5" x2="662.9" y2="766.8" stroke="#9aa4a7" stroke-width="1"/>
<line x1="636.3" y1="770.5" x2="662.9" y2="770.8" stroke="#9aa4a7" stroke-width="1"/>
<line x1="636.3" y1="774.5" x2="662.9" y2="774.8" stroke="#9aa4a7" stroke-width="1"/>
<line x1="636.3" y1="779.5" x2="662.9" y2="779.8" stroke="#9aa4a7" stroke-width="1"/>
<line x1="636.3" y1="783.5" x2="662.9" y2="783.8" stroke="#9aa4a7" stroke-width="1"/>
<line x1="636.3" y1="787.5" x2="662.9" y2="787.8" stroke="#9aa4a7" stroke-width="1"/>
<line x1="636.3" y1="791.5" x2="662.9" y2="791.8" stroke="#9aa4a7" stroke-width="1"/>
<line x1="636.3" y1="794.5" x2="662.9" y2="794.8" stroke="#9aa4a7" stroke-width="1"/>
<line x1="636.3" y1="798.5" x2="662.9" y2="798.8" stroke="#9aa4a7" stroke-width="1"/>
<line x1="636.3" y1="802.5" x2="662.9" y2="802.8" stroke="#9aa4a7" stroke-width="1"/>
<line x1="636.3" y1="806.5" x2="662.9" y2="806.8" stroke="#9aa4a7" stroke-width="1"/>
<line x1="636.3" y1="809.5" x2="662.9" y2="809.8" stroke="#9aa4a7" stroke-width="1"/>
<line x1="636.3" y1="813.5" x2="662.9" y2="813.8" stroke="#9aa4a7" stroke-width="1"/>
<line x1="636.3" y1="816.5" x2="662.9" y2="816.8" stroke="#9aa4a7" stroke-width="1"/>
<line x1="636.3" y1="820.5" x2="662.9" y2="820.8" stroke="#9aa4a7" stroke-width="1"/>
<line x1="636.3" y1="823.5" x2="662.9" y2="823.8" stroke="#9aa4a7" stroke-width="1"/>
<line x1="636.3" y1="826.5" x2="662.9" y2="826.8" stroke="#9aa4a7" stroke-width="1"/>
<line x1="636.3" y1="830.5" x2="662.9" y2="830.8" stroke="#9aa4a7" stroke-width="1"/>
<line x1="648.3" y1="635.8" x2="648.3" y2="859.4" stroke="#8d999e" stroke-width="0.7"/>
<rect x="636.8" y="635.8" width="21.8" height="21.2" fill="url(#fclamp)"/>
<path d="M637.3 657.0 L658.1 657.0 L652.3 661.0 L642.9 661.0 Z" fill="#5e4f45"/>
<rect x="658.6" y="637.3" width="4.0" height="15.9" rx="2" fill="#b0aeaa"/>
<line x1="648.3" y1="635.8" x2="648.3" y2="657.0" stroke="#2a3036" stroke-width="1"/>
<line x1="653.6" y1="635.8" x2="653.6" y2="657.0" stroke="#2a3036" stroke-width="0.8"/>
<rect x="637.1" y="831.4" width="21.8" height="28.0" rx="2" fill="url(#fclamp2)"/>
<ellipse cx="646.9" cy="833.4" rx="8.0" ry="2" fill="#b89878"/>
<rect x="658.6" y="835.6" width="4.0" height="19.6" rx="2" fill="#a4a29e"/>
<line x1="648.3" y1="831.4" x2="648.3" y2="859.4" stroke="#3a3a3c" stroke-width="1"/>
<line x1="653.6" y1="833.4" x2="653.6" y2="859.4" stroke="#555" stroke-width="0.8"/>
</g>
<text x="649.6" y="874.3" text-anchor="middle" font-family="'Liberation Serif','Times New Roman',serif" font-weight="bold" font-size="14">λ=9</text>
<clipPath id="fs10"><rect x="668.6" y="635.8" width="28.5" height="239.3"/></clipPath>
<g clip-path="url(#fs10)">
<rect x="668.6" y="635.8" width="28.5" height="239.3" fill="#17191c"/>
<rect x="668.6" y="661.0" width="28.5" height="11.6" fill="url(#fband)"/>
<line x1="668.6" y1="674.5" x2="697.1" y2="674.8" stroke="#9aa4a7" stroke-width="1"/>
<line x1="668.6" y1="680.5" x2="697.1" y2="680.8" stroke="#9aa4a7" stroke-width="1"/>
<line x1="668.6" y1="686.5" x2="697.1" y2="686.8" stroke="#9aa4a7" stroke-width="1"/>
<line x1="668.6" y1="691.5" x2="697.1" y2="691.8" stroke="#9aa4a7" stroke-width="1"/>
<line x1="668.6" y1="697.5" x2="697.1" y2="697.8" stroke="#9aa4a7" stroke-width="1"/>
<line x1="668.6" y1="702.5" x2="697.1" y2="702.8" stroke="#9aa4a7" stroke-width="1"/>
<line x1="668.6" y1="708.5" x2="697.1" y2="708.8" stroke="#9aa4a7" stroke-width="1"/>
<line x1="668.6" y1="713.5" x2="697.1" y2="713.8" stroke="#9aa4a7" stroke-width="1"/>
<line x1="668.6" y1="718.5" x2="697.1" y2="718.8" stroke="#9aa4a7" stroke-width="1"/>
<line x1="668.6" y1="723.5" x2="697.1" y2="723.8" stroke="#9aa4a7" stroke-width="1"/>
<line x1="668.6" y1="728.5" x2="697.1" y2="728.8" stroke="#9aa4a7" stroke-width="1"/>
<line x1="668.6" y1="733.5" x2="697.1" y2="733.8" stroke="#9aa4a7" stroke-width="1"/>
<line x1="668.6" y1="738.5" x2="697.1" y2="738.8" stroke="#9aa4a7" stroke-width="1"/>
<line x1="668.6" y1="743.5" x2="697.1" y2="743.8" stroke="#9aa4a7" stroke-width="1"/>
<line x1="668.6" y1="748.5" x2="697.1" y2="748.8" stroke="#9aa4a7" stroke-width="1"/>
<line x1="668.6" y1="753.5" x2="697.1" y2="753.8" stroke="#9aa4a7" stroke-width="1"/>
<line x1="668.6" y1="757.5" x2="697.1" y2="757.8" stroke="#9aa4a7" stroke-width="1"/>
<line x1="668.6" y1="762.5" x2="697.1" y2="762.8" stroke="#9aa4a7" stroke-width="1"/>
<line x1="668.6" y1="766.5" x2="697.1" y2="766.8" stroke="#9aa4a7" stroke-width="1"/>
<line x1="668.6" y1="771.5" x2="697.1" y2="771.8" stroke="#9aa4a7" stroke-width="1"/>
<line x1="668.6" y1="775.5" x2="697.1" y2="775.8" stroke="#9aa4a7" stroke-width="1"/>
<line x1="668.6" y1="779.5" x2="697.1" y2="779.8" stroke="#9aa4a7" stroke-width="1"/>
<line x1="668.6" y1="784.5" x2="697.1" y2="784.8" stroke="#9aa4a7" stroke-width="1"/>
<line x1="668.6" y1="788.5" x2="697.1" y2="788.8" stroke="#9aa4a7" stroke-width="1"/>
<line x1="668.6" y1="792.5" x2="697.1" y2="792.8" stroke="#9aa4a7" stroke-width="1"/>
<line x1="668.6" y1="796.5" x2="697.1" y2="796.8" stroke="#9aa4a7" stroke-width="1"/>
<line x1="668.6" y1="800.5" x2="697.1" y2="800.8" stroke="#9aa4a7" stroke-width="1"/>
<line x1="668.6" y1="804.5" x2="697.1" y2="804.8" stroke="#9aa4a7" stroke-width="1"/>
<line x1="668.6" y1="808.5" x2="697.1" y2="808.8" stroke="#9aa4a7" stroke-width="1"/>
<line x1="668.6" y1="811.5" x2="697.1" y2="811.8" stroke="#9aa4a7" stroke-width="1"/>
<line x1="668.6" y1="815.5" x2="697.1" y2="815.8" stroke="#9aa4a7" stroke-width="1"/>
<line x1="668.6" y1="819.5" x2="697.1" y2="819.8" stroke="#9aa4a7" stroke-width="1"/>
<line x1="668.6" y1="822.5" x2="697.1" y2="822.8" stroke="#9aa4a7" stroke-width="1"/>
<line x1="668.6" y1="826.5" x2="697.1" y2="826.8" stroke="#9aa4a7" stroke-width="1"/>
<line x1="668.6" y1="830.5" x2="697.1" y2="830.8" stroke="#9aa4a7" stroke-width="1"/>
<line x1="668.6" y1="833.5" x2="697.1" y2="833.8" stroke="#9aa4a7" stroke-width="1"/>
<line x1="668.6" y1="837.5" x2="697.1" y2="837.8" stroke="#9aa4a7" stroke-width="1"/>
<line x1="668.6" y1="840.5" x2="697.1" y2="840.8" stroke="#9aa4a7" stroke-width="1"/>
<line x1="668.6" y1="843.5" x2="697.1" y2="843.8" stroke="#9aa4a7" stroke-width="1"/>
<line x1="668.6" y1="846.5" x2="697.1" y2="846.8" stroke="#9aa4a7" stroke-width="1"/>
<line x1="681.4" y1="635.8" x2="681.4" y2="875.1" stroke="#8d999e" stroke-width="0.7"/>
<rect x="669.1" y="635.8" width="23.4" height="23.2" fill="url(#fclamp)"/>
<path d="M669.6 659.0 L692.0 659.0 L685.7 663.0 L675.7 663.0 Z" fill="#5e4f45"/>
<rect x="692.5" y="637.3" width="4.3" height="17.4" rx="2" fill="#b0aeaa"/>
<line x1="681.4" y1="635.8" x2="681.4" y2="659.0" stroke="#2a3036" stroke-width="1"/>
<line x1="687.1" y1="635.8" x2="687.1" y2="659.0" stroke="#2a3036" stroke-width="0.8"/>
<rect x="669.4" y="848.6" width="23.4" height="26.5" rx="2" fill="url(#fclamp2)"/>
<ellipse cx="680.0" cy="850.6" rx="8.5" ry="2" fill="#b89878"/>
<rect x="692.5" y="852.6" width="4.3" height="18.5" rx="2" fill="#a4a29e"/>
<line x1="681.4" y1="848.6" x2="681.4" y2="875.1" stroke="#3a3a3c" stroke-width="1"/>
<line x1="687.1" y1="850.6" x2="687.1" y2="875.1" stroke="#555" stroke-width="0.8"/>
</g>
<text x="682.9" y="890.0" text-anchor="middle" font-family="'Liberation Serif','Times New Roman',serif" font-weight="bold" font-size="14">λ=10</text>
<defs><linearGradient id="gbg" x1="0" y1="0" x2="1" y2="0.3"><stop offset="0" stop-color="#acacac"/><stop offset="0.4" stop-color="#bdbdbd"/><stop offset="1" stop-color="#c6c6c4"/></linearGradient><linearGradient id="gmet" x1="0" y1="0" x2="1" y2="0"><stop offset="0" stop-color="#9a9aa0"/><stop offset="0.1" stop-color="#e6e6ea"/><stop offset="0.3" stop-color="#c8c8cc"/><stop offset="0.4" stop-color="#606066"/><stop offset="0.5" stop-color="#b0b0b6"/><stop offset="0.6" stop-color="#f2f2f4"/><stop offset="0.75" stop-color="#8a8a90"/><stop offset="0.88" stop-color="#e0e0e4"/><stop offset="1" stop-color="#a0a0a6"/></linearGradient><linearGradient id="grod" x1="0" y1="0" x2="1" y2="0"><stop offset="0" stop-color="#505055"/><stop offset="0.4" stop-color="#f0f0f4"/><stop offset="0.7" stop-color="#909096"/><stop offset="1" stop-color="#505056"/></linearGradient><linearGradient id="gglove" x1="0" y1="0" x2="0" y2="1"><stop offset="0" stop-color="#3a5cd0"/><stop offset="1" stop-color="#2440a8"/></linearGradient></defs>
<text x="8" y="912.1" font-family="'Liberation Serif','Times New Roman',serif" font-weight="bold" font-size="24">g)</text>
<clipPath id="cpg"><rect x="43" y="903.3" width="167" height="197.7"/></clipPath><g clip-path="url(#cpg)">
<rect x="43" y="903.3" width="167" height="197.7" fill="url(#gbg)"/>
<path d="M38 898 L114 898 C115 905 113 910 108 914 C103 918 102 928 98 932 C92 934.5 86 934 80 933 C72 930 66 928 60 927.5 C52 926 46 925.3 38 925.3 Z" fill="url(#gglove)"/>
<path d="M145 898 L215 898 L215 905 C210 909 200 918 189.4 924.7 C182 930 176 935 168 936.3 C160 936.5 155 933 153.5 928 C152.5 922 152 915 150 910 C148.5 907 147 905 145 903 Z" fill="url(#gglove)"/>
<path d="M97.5 925 L103 924 L124.5 986 L123 986.5 Z" fill="#3a4048"/>
<path d="M154 913 L160 914 L134 986.5 L132.5 986 Z" fill="#3a4048"/>
<path d="M127.5 984.5 C121 986 121 1000 123 1030 L123 1053 L132 1053 L132 1030 C134 1000 134 986 127.5 984.5 Z" fill="url(#grod)"/>
<path d="M127.5 989 C125.5 990 125.5 998 126.5 1004 C127 1006 128 1006 128.5 1004 C129.5 998 129.5 990 127.5 989 Z" fill="#bfbfc4"/>
<rect x="103.8" y="1049" width="46.2" height="46" rx="3" fill="url(#gmet)"/>
<ellipse cx="126.9" cy="1050" rx="23.1" ry="3.6" fill="#b4b4b8"/>
<rect x="123" y="1046" width="9" height="5" fill="url(#grod)"/>
</g>
<text x="104" y="1078.2" font-family="'Liberation Serif','Times New Roman',serif" font-weight="bold" font-size="19.5" fill="#c00000">250 g</text>
<rect x="183.8" y="1094.2" width="21.4" height="2.6" fill="#111"/>
<defs><linearGradient id="hbg" x1="0" y1="1" x2="1" y2="0"><stop offset="0" stop-color="#b0a9a1"/><stop offset="0.5" stop-color="#c0b9b1"/><stop offset="1" stop-color="#cac3bb"/></linearGradient><linearGradient id="hmet" x1="0" y1="0" x2="1" y2="0"><stop offset="0" stop-color="#6e6a66"/><stop offset="0.25" stop-color="#dcd8d4"/><stop offset="0.5" stop-color="#8a8682"/><stop offset="0.75" stop-color="#e6e2de"/><stop offset="1" stop-color="#7a7672"/></linearGradient><linearGradient id="hglove" x1="0" y1="0" x2="1" y2="1"><stop offset="0" stop-color="#5073de"/><stop offset="1" stop-color="#3556c6"/></linearGradient></defs>
<text x="227.1" y="912.1" font-family="'Liberation Serif','Times New Roman',serif" font-weight="bold" font-size="24">h)</text>
<clipPath id="cph1"><rect x="254.3" y="903.3" width="127.8" height="92.3"/></clipPath><g clip-path="url(#cph1)">
<rect x="254.3" y="903.3" width="127.8" height="92.3" fill="url(#hbg)"/>
<path d="M286.3 997.6 L288.3 987.6 Q324.3 979.6 360.3 987.6 L362.3 997.6 Z" fill="#a89f96"/>
<ellipse cx="324.3" cy="991.6" rx="22" ry="6" fill="#cfc8c0"/>
<ellipse cx="324.3" cy="990.6" rx="16" ry="4" fill="#8e8680"/>
<rect x="313.8" y="967.3" width="21" height="23.3" fill="url(#hmet)"/>
<rect x="310.8" y="960.3" width="27" height="9" rx="4" fill="url(#hmet)"/>
<rect x="316.1" y="955.4" width="17.5" height="9.7" rx="1.5" fill="#0c0c0e"/>
<path d="M 271.3 935.9 L 275.3 933.9 L 314.3 943.3 L 314.3 949.3 L 273.3 940.8 Z" fill="#a8a6a4"/>
<path d="M 304.3 941.3 L 339.4 953.4 L 333.6 956.3 L 302.3 948.3 Z" fill="#1a1a1c"/>
<path d="M 249.3 898.3 L 275.3 898.3 C 280.3 905.3 284.3 917.3 285.0 929.1 C 285.3 936.3 282.3 943.3 279.2 946.6 C 274.3 949.3 267.3 952.3 263.6 956.3 C 259.3 958.3 254.3 957.3 249.3 957.3 Z" fill="url(#hglove)"/>
</g>
<rect x="355.7" y="989.4000000000001" width="20.6" height="2.6" fill="#111"/>
<clipPath id="cph2"><rect x="420.6" y="903.2" width="119.5" height="92.6"/></clipPath><g clip-path="url(#cph2)">
<rect x="420.6" y="903.2" width="119.5" height="92.6" fill="url(#hbg)"/>
<path d="M446.2 997.8 L448.2 987.8 Q484.2 979.8 520.2 987.8 L522.2 997.8 Z" fill="#a89f96"/>
<ellipse cx="484.2" cy="991.8" rx="22" ry="6" fill="#cfc8c0"/>
<ellipse cx="484.2" cy="990.8" rx="16" ry="4" fill="#8e8680"/>
<rect x="473.7" y="967.2" width="21" height="23.6" fill="url(#hmet)"/>
<rect x="470.7" y="960.2" width="27" height="9" rx="4" fill="url(#hmet)"/>
<rect x="474.6" y="952.9" width="21.8" height="11.5" rx="1.5" fill="#0c0c0e"/>
<path d="M 440.6 945.2 L 442.6 943.2 L 460.6 948.2 L 460.6 954.2 L 441.6 950.2 Z" fill="#a8a6a4"/>
<path d="M 456.6 947.2 L 490.6 955.2 L 496.6 957.2 L 494.6 961.2 L 456.6 954.2 Z" fill="#1a1a1c"/>
<path d="M 415.6 898.2 L 428.6 898.2 C 435.6 908.2 440.6 921.2 442.4 933.2 C 443.6 945.2 440.6 955.2 434.6 961.2 C 429.6 964.2 423.6 963.2 415.6 961.2 Z" fill="url(#hglove)"/>
</g>
<rect x="513.1" y="989.4000000000001" width="20.6" height="2.6" fill="#111"/>
<clipPath id="cph3"><rect x="578.6" y="903.5" width="117.7" height="91.5"/></clipPath><g clip-path="url(#cph3)">
<rect x="578.6" y="903.5" width="117.7" height="91.5" fill="url(#hbg)"/>
<path d="M606.1 997.0 L608.1 987.0 Q644.1 979.0 680.1 987.0 L682.1 997.0 Z" fill="#a89f96"/>
<ellipse cx="644.1" cy="991.0" rx="22" ry="6" fill="#cfc8c0"/>
<ellipse cx="644.1" cy="990.0" rx="16" ry="4" fill="#8e8680"/>
<rect x="633.6" y="967.5" width="21" height="22.5" fill="url(#hmet)"/>
<rect x="630.6" y="960.5" width="27" height="9" rx="4" fill="url(#hmet)"/>
<rect x="636.8" y="950.9" width="17.0" height="12.1" rx="1.5" fill="#0c0c0e"/>
<path d="M 600.6 940.5 L 602.6 938.5 L 626.6 945.5 L 626.6 950.5 L 601.6 945.5 Z" fill="#a8a6a4"/>
<path d="M 622.6 944.5 L 654.6 951.5 L 653.6 956.5 L 622.6 951.5 Z" fill="#1a1a1c"/>
<path d="M 573.6 898.5 L 588.6 898.5 C 595.6 907.5 600.6 919.5 602.9 931.5 C 603.6 941.5 600.6 949.5 594.6 953.5 C 588.6 955.5 581.6 954.5 573.6 954.5 Z" fill="url(#hglove)"/>
</g>
<rect x="668.9" y="989.6" width="20.1" height="2.6" fill="#111"/>
<text x="387.1" y="938.7" font-family="'Liberation Serif','Times New Roman',serif" font-weight="bold" font-size="16.6" fill="#c00000">Cut</text>
<path d="M387.9 946 H405.5 V941.8 L414.3 949.8 L405.5 957.8 V953.6 H387.9 Z" fill="#c00000"/>
<text x="536.8" y="938.7" font-family="'Liberation Serif','Times New Roman',serif" font-weight="bold" font-size="16.6" fill="#c00000">Release</text>
<path d="M547 945.8 H564.5 V941.6 L573.2 949.6 L564.5 957.6 V953.4 H547 Z" fill="#c00000"/>
<defs><linearGradient id="ibg" x1="0" y1="0" x2="0" y2="1"><stop offset="0" stop-color="#e2e2e2"/><stop offset="0.6" stop-color="#e8e8e8"/><stop offset="1" stop-color="#d4d4d6"/></linearGradient><linearGradient id="igl" x1="0" y1="0" x2="1" y2="1"><stop offset="0" stop-color="#94a2dc"/><stop offset="0.6" stop-color="#8593d4"/><stop offset="1" stop-color="#6c7cc2"/></linearGradient><linearGradient id="ifilm" x1="0" y1="0" x2="0" y2="1"><stop offset="0" stop-color="#4a535c"/><stop offset="1" stop-color="#58626c"/></linearGradient></defs>
<text x="228.6" y="1013.2" font-family="'Liberation Serif','Times New Roman',serif" font-weight="bold" font-size="24">i)</text>
<clipPath id="cpi1"><rect x="254.3" y="1007.3" width="126.8" height="90.5"/></clipPath><g clip-path="url(#cpi1)"><rect x="254.3" y="1007.3" width="126.8" height="90.5" fill="url(#ibg)"/><rect x="274.3" y="1077.3" width="70" height="25" fill="#d2d2d4"/><path d="M 284.3 1028.3 Q 314.3 1038.3 349.3 1028.3 L 351.3 1081.3 Q 314.3 1074.3 280.3 1081.3 Z" fill="url(#ifilm)"/><path d="M 249.3 1007.3 L 259.3 1010.3 C 274.3 1015.3 292.3 1021.3 295.3 1037.3 C 297.3 1052.3 292.3 1069.3 290.3 1081.3 C 296.3 1085.3 300.3 1092.3 296.3 1102.3 L 249.3 1102.3 Z" fill="url(#igl)"/><path d="M 386.3 1021.3 L 358.3 1021.3 C 349.3 1022.3 342.3 1029.3 342.3 1042.3 C 341.3 1057.3 341.3 1072.3 340.3 1085.3 C 336.3 1091.3 332.3 1097.3 330.3 1102.3 L 386.3 1102.3 Z" fill="url(#igl)"/></g>
<clipPath id="cpi2"><rect x="413.5" y="1007.2" width="127.3" height="90.3"/></clipPath><g clip-path="url(#cpi2)"><rect x="413.5" y="1007.2" width="127.3" height="90.3" fill="url(#ibg)"/><rect x="445.7" y="1037.7" width="62.7" height="12.5" fill="#bcbcbc"/><path d="M433.5 1093.2 C458.5 1069.2 473.5 1047.2 478.5 1011.2 C483.5 1047.2 498.5 1069.2 517.5 1093.2 L511.5 1094.2 C495.5 1073.2 481.5 1055.2 478.5 1027.2 C475.5 1055.2 461.5 1073.2 439.5 1095.2 Z" fill="#6b7784" opacity="0.85"/><rect x="474.6" y="1049.2" width="10.6" height="44.4" fill="#a8d0f0" opacity="0.9"/><path d="M477.0 1012.2 L480.0 1012.2 L483.5 1049.2 L475.5 1049.2 Z" fill="#98bde0" opacity="0.9"/><path d="M408.5 1002.2 C412.3 985.5 426.1 998.2 431.2 1002.2 C436.3 1006.2 436.6 1018.9 439.0 1026.1 C441.4 1033.3 444.2 1039.6 445.8 1045.4 C447.4 1051.2 448.4 1055.3 448.7 1060.8 C449.0 1066.3 449.0 1073.4 447.7 1078.2 C446.4 1083.0 444.0 1085.7 440.9 1089.7 C437.8 1093.7 434.7 1100.1 429.3 1102.2 C423.9 1104.3 412.0 1118.9 408.5 1102.2 C405.0 1085.5 404.7 1018.9 408.5 1002.2 Z" fill="url(#igl)"/><path d="M525.7 1002.2 C530.3 997.2 542.2 985.5 545.5 1002.2 C548.8 1018.9 551.4 1086.0 545.5 1102.2 C539.6 1118.4 516.6 1103.5 510.3 1099.2 C503.9 1094.9 507.1 1085.3 507.4 1076.3 C507.7 1067.3 510.5 1052.8 512.3 1045.4 C514.1 1038.0 515.8 1039.1 518.0 1031.9 C520.2 1024.7 521.1 1007.2 525.7 1002.2 Z" fill="url(#igl)"/><path d="M466.9 1010.7 H482.9 M466.0 1095.5 H479.5 M466.9 1010.7 V1095.5" stroke="#c42020" stroke-width="1" fill="none"/><path d="M464.9 1016.2 L466.9 1011.2 L468.9 1016.2 M464.9 1090.2 L466.9 1095.2 L468.9 1090.2" stroke="#c42020" stroke-width="1" fill="none"/></g>
<text x="0" y="0" text-anchor="middle" dominant-baseline="central" transform="translate(453.4 1052.6) rotate(90)" font-family="'Liberation Serif','Times New Roman',serif" font-weight="bold" font-size="15.5" fill="#c00000">10 cm</text>
<clipPath id="cpi3"><rect x="569.2" y="1007.2" width="126.6" height="90.3"/></clipPath><g clip-path="url(#cpi3)"><rect x="569.2" y="1007.2" width="126.6" height="90.3" fill="url(#ibg)"/><rect x="599.2" y="1067.2" width="60" height="35" fill="#c8c8ca"/><path d="M 609.2 1025.2 Q 632.2 1032.2 659.2 1025.2 L 661.2 1069.2 Q 634.2 1062.2 603.2 1072.2 Z" fill="url(#ifilm)"/><path d="M 564.2 1002.2 L 579.2 1002.2 C 594.2 1009.2 609.2 1017.2 611.2 1032.2 C 613.2 1047.2 607.2 1062.2 603.2 1075.2 C 599.2 1085.2 593.2 1095.2 589.2 1102.2 L 564.2 1102.2 Z" fill="url(#igl)"/><path d="M 701.2 1018.2 L 673.2 1016.2 C 664.2 1017.2 656.2 1022.2 654.2 1035.2 C 653.2 1052.2 657.2 1067.2 657.2 1076.2 C 651.2 1079.2 644.2 1087.2 636.2 1102.2 L 701.2 1102.2 Z" fill="url(#igl)"/></g>
<rect x="356.2" y="1091.8" width="20.6" height="2.6" fill="#111"/>
<rect x="669.1" y="1091.3" width="20.6" height="2.6" fill="#111"/>
<text x="364" y="1041.1" font-family="'Liberation Serif','Times New Roman',serif" font-weight="bold" font-size="16.6" fill="#c00000">Puncture</text>
<path d="M384.5 1048.7 H401.4 V1044.5 L410.2 1052.7 L401.4 1060.9 V1056.7 H384.5 Z" fill="#c00000"/>
<text x="529.8" y="1041.7" font-family="'Liberation Serif','Times New Roman',serif" font-weight="bold" font-size="16.6" fill="#c00000">Release</text>
<path d="M542.7 1048.7 H558.9 V1044.5 L567.7 1052.7 L558.9 1060.9 V1056.7 H542.7 Z" fill="#c00000"/>
</svg>
</body></html>
